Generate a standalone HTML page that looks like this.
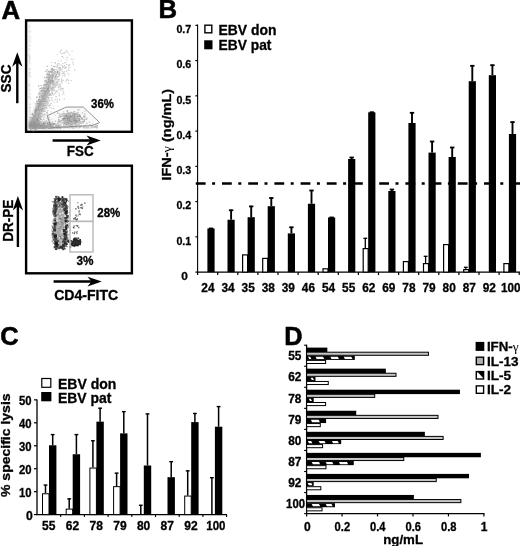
<!DOCTYPE html>
<html><head><meta charset="utf-8"><title>Figure</title>
<style>
html,body{margin:0;padding:0;background:#fff;}
body{width:520px;height:546px;overflow:hidden;font-family:"Liberation Sans",sans-serif;}
svg{display:block;will-change:transform;}
text{stroke:#000;stroke-width:0.3px;}
text.big{stroke-width:0.55px;}
tspan.g{stroke-width:0;}
</style></head><body>
<svg width="520" height="546" viewBox="0 0 520 546">
<defs>
<filter id="bl" x="-5%" y="-5%" width="110%" height="110%"><feGaussianBlur stdDeviation="0.55"/></filter>
<filter id="bl3" x="-10%" y="-10%" width="120%" height="120%"><feGaussianBlur stdDeviation="1.6"/></filter>
<filter id="bl2" x="-5%" y="-5%" width="110%" height="110%"><feGaussianBlur stdDeviation="0.45"/></filter>
<pattern id="hatch" patternUnits="userSpaceOnUse" x="306.4" y="0" width="14.1" height="6">
<rect x="0" y="0" width="14.1" height="6" fill="#000"/>
<path d="M3.5,0 L12,0 L14.1,6 L5.6,6 Z" fill="#fff"/>
</pattern>
</defs>
<rect x="0" y="0" width="520" height="546" fill="#fff"/>
<text x="1.5" y="18.6" font-size="25" text-anchor="start" font-family="Liberation Sans, sans-serif" font-weight="bold" textLength="18.6" lengthAdjust="spacingAndGlyphs" class="big">A</text>
<text x="158.6" y="17.8" font-size="25" text-anchor="start" font-family="Liberation Sans, sans-serif" font-weight="bold" textLength="18.6" lengthAdjust="spacingAndGlyphs" class="big">B</text>
<text x="0.2" y="345.1" font-size="25" text-anchor="start" font-family="Liberation Sans, sans-serif" font-weight="bold" textLength="18.4" lengthAdjust="spacingAndGlyphs" class="big">C</text>
<text x="284.3" y="344.7" font-size="25" text-anchor="start" font-family="Liberation Sans, sans-serif" font-weight="bold" textLength="18.3" lengthAdjust="spacingAndGlyphs" class="big">D</text>
<rect x="26.10" y="20.40" width="105.80" height="111.40" fill="#fff" stroke="#000" stroke-width="2.4" />
<g filter="url(#bl3)">
<path d="M29.5,127 L33,113 L41,92 L49,74 L53,71 L51,84 L45,103 L39,121 L37,128 Z" fill="#999" opacity="0.42"/>
<path d="M28,122 L50,121 L60,129 L28,129.5 Z" fill="#999" opacity="0.45"/>
<ellipse cx="70.5" cy="118.5" rx="8" ry="4.5" fill="#999" opacity="0.5"/>
<rect x="27.6" y="23" width="1.8" height="104" fill="#aaa" opacity="0.25"/>
<path d="M50,116 L67,108 L83,108 L98,122 L90,125 L53,127.5 Z" fill="#aaa" opacity="0.08"/>
</g>
<g filter="url(#bl)" opacity="0.55" fill="none">
<path d="M39.5,116.1h1.2M32.1,124.8h1.2M37.7,109.7h1.2M50.5,88.7h1.2M34.5,124.8h1.2M34.1,117.5h1.2M44.6,92.4h1.2M42.2,90.0h1.2M46.1,99.1h1.2M50.8,69.4h1.2M52.0,71.4h1.2M46.9,89.9h1.2M31.5,118.7h1.2M31.8,113.8h1.2M38.3,99.5h1.2M33.6,120.1h1.2M31.2,120.5h1.2M34.5,112.0h1.2M54.1,77.5h1.2M44.5,84.6h1.2M35.7,123.3h1.2M56.9,71.6h1.2M52.2,76.5h1.2M55.2,85.7h1.2M50.5,82.5h1.2M36.3,120.2h1.2M39.1,104.1h1.2M33.9,121.2h1.2M38.0,112.8h1.2M48.3,85.9h1.2M36.2,124.1h1.2M37.9,110.0h1.2M43.3,91.5h1.2M46.0,108.2h1.2M34.7,121.9h1.2M34.0,125.7h1.2M56.3,84.7h1.2M49.9,84.0h1.2M57.1,73.2h1.2M38.1,111.7h1.2M39.5,113.1h1.2M47.0,93.7h1.2M30.9,122.9h1.2M53.3,69.7h1.2M33.2,120.8h1.2M32.7,118.3h1.2M52.6,84.4h1.2M48.2,87.2h1.2M54.7,76.6h1.2M50.8,82.9h1.2M48.1,95.1h1.2M55.8,75.1h1.2M44.8,91.8h1.2M32.3,117.7h1.2M38.9,110.4h1.2M33.7,124.3h1.2M34.7,110.4h1.2M35.2,110.0h1.2M42.5,93.6h1.2M42.2,108.5h1.2M45.6,92.3h1.2M50.1,71.6h1.2M39.2,113.3h1.2M41.3,96.8h1.2M34.4,125.6h1.2M36.6,115.8h1.2M39.4,109.2h1.2M32.6,121.6h1.2M47.2,93.2h1.2M40.6,104.2h1.2M38.3,112.0h1.2M33.7,120.4h1.2M37.7,117.5h1.2M33.9,123.6h1.2M59.2,69.2h1.2M48.4,79.2h1.2M44.5,103.5h1.2M43.6,106.2h1.2M44.4,105.5h1.2M44.7,103.0h1.2M52.1,73.0h1.2M31.2,118.9h1.2M33.8,121.9h1.2M46.0,86.6h1.2M57.0,72.0h1.2M33.6,123.3h1.2M40.2,104.0h1.2M37.0,119.2h1.2M41.2,88.2h1.2M37.4,119.7h1.2M36.3,101.3h1.2M35.7,116.5h1.2M34.7,117.3h1.2M44.9,100.6h1.2M33.9,121.0h1.2M43.4,90.8h1.2M33.8,123.2h1.2M35.3,119.3h1.2M46.1,96.4h1.2M35.6,118.4h1.2M29.7,117.2h1.2M42.4,104.0h1.2M47.7,88.6h1.2M44.3,111.2h1.2M46.6,82.9h1.2M39.2,121.0h1.2M44.6,107.9h1.2M37.8,108.1h1.2M45.3,92.6h1.2M37.5,111.4h1.2M58.0,73.9h1.2M44.8,95.2h1.2M53.0,87.6h1.2M39.0,105.4h1.2M32.4,128.7h1.2M52.3,80.3h1.2M47.4,90.1h1.2M32.0,120.6h1.2M44.1,107.6h1.2M51.8,81.4h1.2M38.5,101.1h1.2M33.6,127.9h1.2M43.1,87.9h1.2M30.9,124.9h1.2M47.2,88.4h1.2M45.1,93.8h1.2M33.6,115.8h1.2M35.6,118.5h1.2M37.1,112.3h1.2M41.6,109.6h1.2M50.1,83.3h1.2M30.8,121.3h1.2M51.9,68.7h1.2M52.1,82.8h1.2M42.3,104.1h1.2M41.6,110.8h1.2M46.7,90.4h1.2M51.7,75.1h1.2M41.3,101.5h1.2M34.3,123.2h1.2M40.4,119.2h1.2M35.8,112.2h1.2M32.5,120.7h1.2M38.7,104.6h1.2M33.3,119.3h1.2M34.3,125.4h1.2M53.4,73.9h1.2M39.3,110.0h1.2M33.9,117.0h1.2M32.5,122.9h1.2M37.2,114.0h1.2M39.9,105.0h1.2M39.5,88.6h1.2M51.0,77.9h1.2M53.4,66.7h1.2M44.0,101.4h1.2M34.2,122.6h1.2M38.3,104.8h1.2M47.7,86.5h1.2M49.8,95.3h1.2M51.9,87.6h1.2M59.8,69.0h1.2M35.6,127.7h1.2M34.6,116.7h1.2M46.1,76.8h1.2M43.3,97.1h1.2M41.6,106.1h1.2M34.5,117.1h1.2M51.4,89.4h1.2M36.6,114.5h1.2M40.5,103.5h1.2M41.4,105.9h1.2M36.2,97.1h1.2" stroke="rgb(70,70,70)" stroke-width="1.2"/>
<path d="M53.8,83.5h1.2M46.2,100.9h1.2M33.4,127.8h1.2M42.5,97.7h1.2M42.9,103.4h1.2M47.4,97.4h1.2M33.1,122.2h1.2M41.7,106.8h1.2M51.6,82.8h1.2M37.4,110.2h1.2M34.3,124.5h1.2M32.9,121.3h1.2M39.9,100.5h1.2M46.4,92.9h1.2M41.0,90.6h1.2M52.0,77.9h1.2M53.0,82.4h1.2M43.0,106.8h1.2M43.3,95.7h1.2M44.9,99.7h1.2M47.1,89.0h1.2M44.4,81.2h1.2M37.8,103.7h1.2M38.3,115.6h1.2M53.6,90.1h1.2M49.1,105.3h1.2M53.0,75.1h1.2M56.4,72.3h1.2M34.4,120.8h1.2M49.2,90.3h1.2M38.8,109.0h1.2M43.7,95.6h1.2M44.1,77.7h1.2M51.2,80.4h1.2M43.7,94.4h1.2M35.5,108.4h1.2M39.4,105.1h1.2M48.9,72.8h1.2M48.7,87.2h1.2M32.7,120.8h1.2M45.0,94.4h1.2M50.2,86.8h1.2M34.8,112.7h1.2M38.0,106.2h1.2M30.9,121.4h1.2M54.7,71.6h1.2M33.3,122.8h1.2M47.6,90.6h1.2M47.7,91.2h1.2M45.6,87.0h1.2M38.0,111.2h1.2M56.2,74.3h1.2M49.1,77.1h1.2M36.3,122.1h1.2M38.5,108.0h1.2M35.0,121.6h1.2M31.6,118.1h1.2M29.8,120.7h1.2M31.2,119.9h1.2M34.7,125.4h1.2M33.0,119.4h1.2M40.2,101.7h1.2M31.9,120.8h1.2M29.9,122.5h1.2M47.7,71.4h1.2M47.7,90.5h1.2M55.5,75.0h1.2M49.2,82.1h1.2M54.6,62.8h1.2M35.3,119.7h1.2M40.4,101.9h1.2M33.4,115.9h1.2M38.0,116.6h1.2M45.8,86.1h1.2M35.2,121.1h1.2M42.7,101.1h1.2M36.5,103.5h1.2M46.3,102.4h1.2M37.7,113.0h1.2M42.1,103.4h1.2M36.5,109.8h1.2M33.7,118.4h1.2M48.4,75.7h1.2M34.7,109.7h1.2M31.6,123.8h1.2M44.9,103.8h1.2M36.4,105.2h1.2M33.0,125.0h1.2M59.4,67.6h1.2M34.6,116.0h1.2M39.0,103.7h1.2M39.8,108.2h1.2M43.3,85.3h1.2M55.3,77.9h1.2M41.0,116.7h1.2M44.6,101.0h1.2M53.0,84.1h1.2M32.4,120.3h1.2M53.0,81.4h1.2M34.1,115.1h1.2M50.9,72.1h1.2M38.1,85.9h1.2M47.5,93.3h1.2M49.1,77.6h1.2M51.5,77.3h1.2M43.0,99.3h1.2M37.3,106.0h1.2M39.9,119.2h1.2M35.1,111.5h1.2M39.4,114.4h1.2M39.5,103.0h1.2M37.2,115.5h1.2M36.0,116.9h1.2M35.1,127.8h1.2M42.0,105.7h1.2M56.0,72.4h1.2M58.6,68.4h1.2M39.8,108.9h1.2M33.7,121.8h1.2M44.5,99.7h1.2M51.4,71.3h1.2M32.6,115.2h1.2M30.4,125.5h1.2M38.6,118.7h1.2M30.5,122.5h1.2M51.8,93.2h1.2M36.8,126.4h1.2M50.6,80.9h1.2M47.2,92.4h1.2M41.9,96.1h1.2M30.2,129.6h1.2M36.7,114.7h1.2M47.0,84.4h1.2M34.2,112.2h1.2M37.8,113.1h1.2M35.7,107.9h1.2M39.5,93.5h1.2M54.9,75.5h1.2M42.2,98.8h1.2M45.2,71.3h1.2M39.1,110.9h1.2M47.1,74.1h1.2M31.8,122.0h1.2M36.9,118.1h1.2M38.0,100.4h1.2M42.1,105.6h1.2M42.3,98.9h1.2M40.3,110.0h1.2M32.5,118.4h1.2M38.4,123.7h1.2M47.9,89.1h1.2M38.2,94.2h1.2M47.1,75.0h1.2M40.9,100.3h1.2M36.6,124.1h1.2M40.9,113.7h1.2M33.2,116.8h1.2M51.7,89.6h1.2M51.7,74.9h1.2M42.8,97.9h1.2M39.2,97.7h1.2M33.2,124.7h1.2M31.4,122.4h1.2M50.3,82.5h1.2M46.5,69.9h1.2M37.3,107.3h1.2M35.5,123.6h1.2M52.6,76.4h1.2M32.3,125.9h1.2M46.6,77.3h1.2M35.3,112.9h1.2M37.2,113.9h1.2M48.4,74.3h1.2M48.8,81.8h1.2M40.0,108.5h1.2M52.0,71.6h1.2M57.3,72.1h1.2M36.2,110.1h1.2M35.9,116.0h1.2M54.2,73.7h1.2M49.9,81.3h1.2M35.8,111.3h1.2M34.9,129.7h1.2" stroke="rgb(100,100,100)" stroke-width="1.2"/>
<path d="M43.9,93.9h1.2M36.2,114.5h1.2M32.1,119.6h1.2M50.6,75.8h1.2M35.2,103.8h1.2M34.9,121.7h1.2M44.9,99.9h1.2M36.9,110.7h1.2M54.8,79.2h1.2M36.5,121.3h1.2M60.3,69.2h1.2M53.5,86.8h1.2M41.8,99.9h1.2M55.7,82.2h1.2M41.8,100.6h1.2M42.9,91.4h1.2M55.0,72.6h1.2M56.3,67.2h1.2M37.3,112.2h1.2M55.1,79.7h1.2M47.2,72.8h1.2M36.3,124.4h1.2M36.6,115.9h1.2M45.7,86.9h1.2M32.8,117.9h1.2M29.7,120.4h1.2M39.0,96.4h1.2M46.8,87.4h1.2M34.2,114.4h1.2M43.5,98.0h1.2M51.3,74.4h1.2M42.4,115.0h1.2M38.9,105.1h1.2M51.6,78.2h1.2M39.6,108.1h1.2M48.4,84.2h1.2M48.3,95.2h1.2M40.4,100.3h1.2M50.0,82.7h1.2M35.1,120.9h1.2M30.7,123.8h1.2M53.1,70.5h1.2M35.3,120.3h1.2M51.2,68.2h1.2M34.4,129.7h1.2M37.6,117.9h1.2M37.2,114.6h1.2M33.4,115.9h1.2M49.2,81.6h1.2M38.9,110.0h1.2M34.4,114.2h1.2M32.9,128.0h1.2M52.0,73.0h1.2M45.8,81.9h1.2M39.6,103.2h1.2M29.4,122.4h1.2M29.8,123.2h1.2M48.3,77.6h1.2M35.6,123.9h1.2M35.2,112.0h1.2M34.0,113.0h1.2M46.6,78.0h1.2M29.9,123.4h1.2M37.4,112.9h1.2M51.3,82.7h1.2M44.5,95.3h1.2M34.7,124.7h1.2M47.8,84.3h1.2M50.0,75.8h1.2M33.6,120.4h1.2M40.4,94.8h1.2M35.1,124.8h1.2M49.5,94.5h1.2M53.2,89.0h1.2M46.6,92.8h1.2M53.7,69.5h1.2M38.0,118.8h1.2M52.0,72.3h1.2M47.5,95.8h1.2M42.9,97.0h1.2M40.1,108.1h1.2M37.4,112.8h1.2M45.6,90.5h1.2M56.7,64.6h1.2M34.8,118.7h1.2M42.9,108.0h1.2M32.7,130.8h1.2M50.3,79.3h1.2M36.2,115.3h1.2M35.2,106.8h1.2M35.1,117.0h1.2M37.0,108.6h1.2M44.6,96.2h1.2M34.1,115.2h1.2M47.1,92.7h1.2M33.0,124.4h1.2M47.4,89.7h1.2M48.6,86.3h1.2M54.2,85.1h1.2M36.5,102.0h1.2M39.9,104.8h1.2M51.4,89.9h1.2M37.6,112.8h1.2M41.4,102.5h1.2M36.2,107.1h1.2M39.0,110.7h1.2M40.7,113.3h1.2M52.8,73.4h1.2M36.7,112.6h1.2M44.9,87.9h1.2M35.8,124.2h1.2M44.4,98.2h1.2M38.6,92.9h1.2M56.3,81.7h1.2M56.1,82.6h1.2M34.3,121.9h1.2M46.4,87.7h1.2M37.0,105.9h1.2M43.9,98.5h1.2M40.4,106.9h1.2M39.8,117.2h1.2M54.0,81.5h1.2M36.8,113.7h1.2M56.8,70.3h1.2M33.6,118.8h1.2M29.3,119.2h1.2M35.1,123.4h1.2M47.2,77.5h1.2M38.9,115.5h1.2M41.7,99.6h1.2M51.3,62.5h1.2M44.6,80.8h1.2M44.9,101.9h1.2M34.6,116.6h1.2M50.3,93.5h1.2M53.7,70.4h1.2M37.8,101.1h1.2M44.5,105.9h1.2M55.8,76.3h1.2M57.2,81.0h1.2M30.6,119.0h1.2M44.2,87.8h1.2M36.6,109.7h1.2M32.4,124.1h1.2M42.6,93.3h1.2M58.6,72.4h1.2M42.0,105.1h1.2M32.4,128.2h1.2M57.8,76.5h1.2M42.8,96.1h1.2M52.3,88.8h1.2M46.1,84.7h1.2M38.7,117.7h1.2M56.5,74.0h1.2M34.3,122.5h1.2M35.1,118.2h1.2M34.8,121.3h1.2M54.1,77.4h1.2M47.7,79.1h1.2M45.1,92.1h1.2M42.9,95.3h1.2M42.2,104.2h1.2M48.2,93.8h1.2M55.7,91.4h1.2M33.2,118.3h1.2M31.0,120.3h1.2M55.9,78.8h1.2M40.1,100.0h1.2M36.7,107.7h1.2M35.5,126.6h1.2M35.5,116.2h1.2M59.4,70.1h1.2M58.6,68.3h1.2M46.3,101.0h1.2M63.6,71.5h1.2M42.7,119.0h1.2M74.1,69.9h1.2M50.6,82.8h1.2M54.6,72.5h1.2M41.8,100.8h1.2M57.9,87.5h1.2M66.0,64.5h1.2M62.2,67.5h1.2M61.8,56.6h1.2M63.7,65.9h1.2M59.0,99.6h1.2M57.5,86.0h1.2M47.6,80.7h1.2M44.7,92.1h1.2M51.1,127.0h1.2M40.3,99.7h1.2M58.6,69.2h1.2M48.7,117.5h1.2M47.3,100.7h1.2M52.4,90.9h1.2M64.1,63.0h1.2M60.3,65.0h1.2M42.1,115.6h1.2M61.0,79.2h1.2M45.5,98.6h1.2M51.0,88.3h1.2M59.7,86.2h1.2M65.9,50.9h1.2M46.9,110.6h1.2M51.3,71.2h1.2M43.5,104.1h1.2M61.6,73.7h1.2M57.2,84.1h1.2M57.6,72.0h1.2M48.8,101.0h1.2M60.6,88.5h1.2M57.5,63.7h1.2M43.8,106.6h1.2M48.6,93.4h1.2M43.4,117.3h1.2M45.1,105.0h1.2M40.6,107.5h1.2M60.4,90.2h1.2M68.4,64.7h1.2M54.2,93.3h1.2M61.8,66.2h1.2M55.2,91.9h1.2M55.4,85.5h1.2M62.7,92.9h1.2M59.2,73.1h1.2M52.2,78.4h1.2M58.6,87.1h1.2M68.3,70.3h1.2M39.5,116.7h1.2M38.6,102.3h1.2M56.7,83.3h1.2M43.1,114.6h1.2M37.4,117.8h1.2M51.2,92.1h1.2M65.7,80.9h1.2M47.7,98.6h1.2M38.2,114.5h1.2M59.8,51.3h1.2M47.4,103.8h1.2M52.3,94.1h1.2M56.6,91.2h1.2M57.4,79.8h1.2M44.2,113.9h1.2M62.8,72.9h1.2M63.6,99.2h1.2M60.7,50.0h1.2M46.8,114.2h1.2M61.5,56.7h1.2M60.7,81.1h1.2M49.5,107.5h1.2M61.4,88.4h1.2M53.1,84.2h1.2M67.3,52.3h1.2M68.2,80.3h1.2M50.5,103.5h1.2M57.8,79.7h1.2M57.1,65.8h1.2M59.2,70.8h1.2M61.9,88.7h1.2M68.1,66.0h1.2M38.0,124.7h1.2M55.7,84.3h1.2M46.7,112.4h1.2M52.0,77.7h1.2M51.7,79.3h1.2M66.7,57.3h1.2M58.0,72.0h1.2M41.9,92.0h1.2M64.6,52.4h1.2M62.9,91.0h1.2M42.5,94.9h1.2M42.9,109.8h1.2M29.6,127.6h1.2M43.9,127.0h1.2M29.4,121.9h1.2M52.0,125.1h1.2M30.7,120.4h1.2M48.5,126.2h1.2M49.5,126.8h1.2M28.9,125.4h1.2M34.1,125.4h1.2M44.0,124.0h1.2M33.9,128.0h1.2M35.2,128.5h1.2M37.4,127.6h1.2M54.4,123.7h1.2M44.5,127.3h1.2M29.4,128.2h1.2M39.9,122.2h1.2M51.1,127.6h1.2M42.9,124.2h1.2M39.8,124.7h1.2M31.2,124.3h1.2M41.7,127.4h1.2M30.2,125.0h1.2M42.4,124.4h1.2M39.2,127.0h1.2M31.2,126.2h1.2M43.1,123.2h1.2M35.6,124.2h1.2M36.5,127.7h1.2M39.9,125.7h1.2M39.7,126.1h1.2M49.3,127.9h1.2M36.7,127.2h1.2M57.6,124.8h1.2M38.6,123.2h1.2M34.0,127.6h1.2M31.3,122.6h1.2M31.5,126.3h1.2M50.4,124.9h1.2M57.1,126.7h1.2M29.9,126.1h1.2M36.0,126.3h1.2M35.3,126.4h1.2M44.9,126.2h1.2M35.8,128.3h1.2M40.7,121.8h1.2M36.4,123.6h1.2M34.4,127.0h1.2M38.1,128.4h1.2M31.9,125.9h1.2M32.1,123.2h1.2M54.5,126.7h1.2M47.6,126.1h1.2M66.9,126.5h1.2M39.3,126.0h1.2M48.5,127.6h1.2M41.8,124.7h1.2M46.1,126.0h1.2M29.9,123.4h1.2M29.6,127.9h1.2M40.7,122.9h1.2M39.8,127.8h1.2M30.6,128.4h1.2M45.3,126.2h1.2M28.9,126.2h1.2M42.8,119.4h1.2M34.0,127.4h1.2M33.2,128.1h1.2M54.8,126.5h1.2M35.8,124.4h1.2M58.0,127.3h1.2M34.4,127.9h1.2M43.0,128.3h1.2M29.9,126.4h1.2M51.6,122.5h1.2M41.8,125.1h1.2M33.2,126.2h1.2M34.1,122.1h1.2M41.0,127.3h1.2M32.5,125.9h1.2M44.5,128.0h1.2M56.8,128.2h1.2M89.2,124.7h1.2M29.3,127.9h1.2M41.7,124.5h1.2M35.8,127.9h1.2M29.5,126.4h1.2M28.6,123.6h1.2M38.2,125.8h1.2M32.8,126.0h1.2M44.9,127.9h1.2M31.2,127.5h1.2M36.0,122.7h1.2M44.6,123.4h1.2M32.4,128.3h1.2M45.0,128.0h1.2M34.5,127.3h1.2M40.4,124.1h1.2M33.3,124.5h1.2M29.0,124.2h1.2M30.1,127.5h1.2M32.4,125.0h1.2M30.5,123.4h1.2M44.4,127.7h1.2M33.2,127.7h1.2M40.6,127.9h1.2M31.6,128.5h1.2M47.9,125.1h1.2M28.9,127.5h1.2M56.1,126.6h1.2M42.3,125.1h1.2M54.5,126.4h1.2M44.8,128.2h1.2M60.2,128.6h1.2M46.4,126.2h1.2M62.3,126.6h1.2M32.1,121.7h1.2M34.7,122.8h1.2M33.2,126.0h1.2M28.9,128.3h1.2" stroke="rgb(150,150,150)" stroke-width="1.2"/>
<path d="M37.5,115.5h1.2M40.9,95.3h1.2M48.6,81.1h1.2M45.3,97.7h1.2M58.5,72.7h1.2M50.7,81.3h1.2M50.2,76.3h1.2M39.7,117.1h1.2M38.7,114.6h1.2M47.1,83.9h1.2M47.4,102.3h1.2M35.1,125.1h1.2M43.0,108.7h1.2M50.9,83.2h1.2M41.8,105.8h1.2M44.0,92.6h1.2M50.6,82.9h1.2M52.1,70.2h1.2M42.4,106.5h1.2M36.7,118.7h1.2M35.4,114.3h1.2M39.5,90.9h1.2M38.1,123.0h1.2M32.8,121.1h1.2M52.0,69.4h1.2M47.8,81.9h1.2M50.1,94.5h1.2M45.3,88.1h1.2M39.6,114.9h1.2M36.1,126.0h1.2M58.6,75.7h1.2M37.4,112.8h1.2M51.6,71.2h1.2M33.1,121.0h1.2M39.4,112.8h1.2M38.7,107.3h1.2M39.6,112.7h1.2M38.6,115.0h1.2M44.7,100.3h1.2M45.5,100.3h1.2M33.6,126.2h1.2M38.1,110.7h1.2M31.6,120.7h1.2M55.0,87.4h1.2M31.7,121.9h1.2M43.2,95.9h1.2M32.7,117.9h1.2M36.9,127.0h1.2M37.8,120.3h1.2M39.6,114.1h1.2M45.3,80.3h1.2M43.0,98.3h1.2M48.2,86.6h1.2M32.4,125.1h1.2M47.3,83.0h1.2M46.6,94.8h1.2M54.9,73.0h1.2M31.6,119.6h1.2M48.8,82.7h1.2M35.9,129.2h1.2M45.9,88.6h1.2M44.3,98.4h1.2M35.1,121.7h1.2M39.4,112.9h1.2M47.6,90.0h1.2M30.8,121.1h1.2M31.7,114.8h1.2M39.3,115.3h1.2M34.9,113.7h1.2M47.6,85.4h1.2M31.4,122.8h1.2M30.8,118.0h1.2M39.2,108.8h1.2M51.2,84.2h1.2M35.5,114.5h1.2M53.5,86.8h1.2M39.5,102.5h1.2M51.6,88.9h1.2M34.8,117.1h1.2M37.0,113.1h1.2M59.2,74.8h1.2M45.7,83.0h1.2M36.8,113.4h1.2M46.7,66.4h1.2M46.3,92.7h1.2M52.4,87.4h1.2M40.4,119.3h1.2M48.8,79.7h1.2M44.0,88.6h1.2M47.9,80.0h1.2M39.0,96.4h1.2M42.7,88.3h1.2M44.1,85.0h1.2M49.2,71.2h1.2M40.6,91.8h1.2M37.4,103.5h1.2M50.1,88.6h1.2M54.4,66.3h1.2M49.0,94.8h1.2M32.2,120.3h1.2M42.6,111.4h1.2M51.0,65.5h1.2M46.8,82.9h1.2M37.3,120.0h1.2M41.5,100.8h1.2M41.5,90.6h1.2M49.7,82.5h1.2M31.5,114.0h1.2M34.0,120.4h1.2M45.9,74.1h1.2M52.1,78.1h1.2M52.7,72.7h1.2M55.4,69.5h1.2M39.0,106.5h1.2M48.1,77.4h1.2M37.6,114.1h1.2M46.3,104.1h1.2M39.6,108.1h1.2M39.1,115.0h1.2M54.7,83.7h1.2M40.7,111.4h1.2M54.3,78.1h1.2M51.4,79.5h1.2M33.0,116.3h1.2M35.6,122.5h1.2M34.5,126.6h1.2M43.1,106.8h1.2M41.3,104.4h1.2M31.7,122.6h1.2M37.5,122.0h1.2M42.8,102.7h1.2M34.5,115.2h1.2M35.6,115.5h1.2M36.1,110.6h1.2M38.6,108.0h1.2M40.0,107.8h1.2M32.5,131.0h1.2M32.1,127.3h1.2M46.3,105.9h1.2M47.0,95.3h1.2M50.2,82.5h1.2M53.6,73.3h1.2M36.9,111.5h1.2M49.8,80.5h1.2M55.1,75.4h1.2M48.8,91.7h1.2M40.6,110.2h1.2M43.7,110.1h1.2M42.6,101.0h1.2M45.3,90.1h1.2M41.1,100.8h1.2M40.3,88.5h1.2M33.2,119.8h1.2M36.2,109.3h1.2M48.8,72.1h1.2M38.5,113.9h1.2M47.2,92.3h1.2M52.6,83.0h1.2M34.7,122.2h1.2M48.4,79.0h1.2M45.5,97.6h1.2M45.7,90.9h1.2M34.7,127.7h1.2M45.9,112.9h1.2M45.7,81.5h1.2M44.5,95.8h1.2M45.5,99.0h1.2M46.5,101.0h1.2M40.4,85.7h1.2M52.6,85.6h1.2" stroke="rgb(130,130,130)" stroke-width="1.2"/>
<path d="M45.2,108.1h1.2M41.5,104.0h1.2M65.7,67.5h1.2M44.7,109.2h1.2M57.5,74.3h1.2M59.8,84.3h1.2M47.2,110.6h1.2M60.2,68.8h1.2M39.0,108.6h1.2M63.4,93.8h1.2M54.0,79.6h1.2M57.4,106.4h1.2M39.6,115.0h1.2M46.6,127.7h1.2M53.5,108.8h1.2M46.9,104.0h1.2M54.1,86.6h1.2M57.0,63.9h1.2M56.0,78.8h1.2M67.3,73.4h1.2M45.7,99.4h1.2M39.4,108.4h1.2M50.9,83.8h1.2M36.4,102.3h1.2M51.1,95.2h1.2M55.4,92.6h1.2M67.9,74.7h1.2M62.8,75.3h1.2M51.6,119.0h1.2M53.5,102.2h1.2M53.4,79.2h1.2M43.6,100.5h1.2M53.6,93.7h1.2M53.5,76.7h1.2M48.5,118.9h1.2M61.7,71.4h1.2M64.0,68.2h1.2M50.6,90.4h1.2M56.8,74.4h1.2M46.4,86.5h1.2M64.9,68.3h1.2M48.5,123.0h1.2M59.6,89.3h1.2M66.5,70.1h1.2M54.5,79.1h1.2M61.1,53.5h1.2M42.1,112.6h1.2M56.6,54.7h1.2M57.5,60.8h1.2M46.1,105.2h1.2M44.0,113.9h1.2M42.6,110.2h1.2M37.8,111.7h1.2M50.6,100.2h1.2M57.8,68.9h1.2M42.0,121.1h1.2M52.9,73.3h1.2M69.0,54.3h1.2M62.8,88.5h1.2M51.8,97.7h1.2M57.7,68.1h1.2M48.1,99.8h1.2M49.7,114.3h1.2M42.8,102.5h1.2M64.3,76.2h1.2M44.4,108.6h1.2M57.8,86.9h1.2M42.1,106.7h1.2M72.8,64.7h1.2M43.3,115.7h1.2M56.5,91.2h1.2M54.0,81.2h1.2M38.7,125.1h1.2M61.8,77.0h1.2M50.0,119.7h1.2M50.3,111.9h1.2M45.3,97.1h1.2M39.5,112.5h1.2M47.9,106.4h1.2M54.4,87.3h1.2M50.0,104.6h1.2M65.1,59.0h1.2M59.2,85.2h1.2M57.0,77.1h1.2M69.6,67.4h1.2M43.7,107.5h1.2M58.6,81.7h1.2M71.9,61.8h1.2M67.1,60.2h1.2M44.2,110.4h1.2M61.7,94.7h1.2M62.9,57.5h1.2M56.0,84.8h1.2M59.5,52.8h1.2M44.3,116.3h1.2M49.1,88.5h1.2M36.6,113.2h1.2M43.8,119.9h1.2M72.6,63.2h1.2M59.9,84.4h1.2M58.3,72.5h1.2M36.2,115.8h1.2M59.7,70.4h1.2M63.8,53.7h1.2M55.4,96.7h1.2M47.6,104.2h1.2M50.4,103.4h1.2M29.4,112.1h1.2M28.5,84.6h1.2M29.6,122.7h1.2M29.4,31.0h1.2M28.5,84.0h1.2M29.1,57.1h1.2M29.2,110.2h1.2M29.6,76.6h1.2M29.6,93.8h1.2M29.4,39.9h1.2M29.3,41.7h1.2M28.9,72.5h1.2M29.0,118.0h1.2M28.6,117.5h1.2M29.3,62.9h1.2M29.5,37.1h1.2M28.6,89.7h1.2M28.4,96.5h1.2M28.7,107.9h1.2M28.8,49.4h1.2M29.1,26.3h1.2M29.5,32.0h1.2M28.7,73.9h1.2M29.0,110.6h1.2" stroke="rgb(190,190,190)" stroke-width="1.2"/>
<path d="M56.3,77.0h1.2M54.2,79.6h1.2M64.1,76.0h1.2M40.8,127.1h1.2M45.9,106.2h1.2M66.0,79.8h1.2M48.8,100.4h1.2M56.8,101.9h1.2M55.7,96.4h1.2M70.5,59.1h1.2M52.5,86.4h1.2M54.1,82.9h1.2M58.7,67.2h1.2M45.1,103.0h1.2M44.9,88.0h1.2M59.9,114.8h1.2M54.9,79.1h1.2M51.6,100.7h1.2M58.9,79.1h1.2M52.5,106.0h1.2M45.8,100.5h1.2M46.3,100.8h1.2M48.1,116.8h1.2M64.3,68.0h1.2M49.5,87.8h1.2M53.3,95.0h1.2M61.2,82.2h1.2M58.7,94.7h1.2M51.4,90.6h1.2M52.9,82.7h1.2M56.7,98.9h1.2M53.9,80.8h1.2M64.2,74.3h1.2M61.6,53.7h1.2M56.4,101.3h1.2M49.5,86.0h1.2M58.2,93.2h1.2M44.6,107.9h1.2M43.7,107.4h1.2M54.0,84.8h1.2M61.4,69.8h1.2M49.3,87.9h1.2M45.8,87.6h1.2M62.3,63.7h1.2M44.6,103.6h1.2M42.3,115.7h1.2M68.8,54.6h1.2M52.8,87.9h1.2M45.0,115.1h1.2M59.9,86.2h1.2M52.0,74.4h1.2M45.8,118.4h1.2M58.4,86.9h1.2M39.5,100.5h1.2M38.9,116.2h1.2M40.0,110.8h1.2M56.0,67.2h1.2M43.0,114.3h1.2M72.8,59.2h1.2M56.4,78.8h1.2M51.0,108.3h1.2M68.1,68.3h1.2M62.7,53.0h1.2M54.8,99.7h1.2M58.7,73.4h1.2M65.1,66.6h1.2M49.9,95.3h1.2M47.6,94.8h1.2M39.6,125.0h1.2M49.0,97.5h1.2M49.3,85.1h1.2M60.4,88.1h1.2M61.4,83.2h1.2M60.5,61.2h1.2M65.3,67.6h1.2M70.9,80.6h1.2M41.9,103.3h1.2M62.6,80.3h1.2M62.4,66.6h1.2M57.0,82.5h1.2M47.0,118.8h1.2M52.0,90.5h1.2M55.6,72.7h1.2M47.2,86.6h1.2M41.2,106.4h1.2M65.7,71.7h1.2M63.6,73.2h1.2M68.1,83.3h1.2M40.7,112.5h1.2M58.0,89.3h1.2M45.8,93.5h1.2M52.9,108.5h1.2M59.4,84.3h1.2M40.3,122.5h1.2M45.7,103.7h1.2M62.2,68.0h1.2M41.5,114.3h1.2M47.2,105.1h1.2M58.9,84.4h1.2M57.8,82.0h1.2M67.0,79.1h1.2M71.4,51.1h1.2M54.9,83.9h1.2M56.6,76.6h1.2M62.1,88.9h1.2M50.6,98.7h1.2M68.6,65.5h1.2M57.1,77.3h1.2M58.8,63.9h1.2M52.2,84.5h1.2M58.5,96.0h1.2M65.3,62.4h1.2M60.8,81.0h1.2M53.6,71.5h1.2M62.0,80.5h1.2M50.8,95.5h1.2M36.7,112.0h1.2M59.1,69.6h1.2M72.2,127.5h1.2M58.5,127.2h1.2M58.1,126.6h1.2M85.7,127.0h1.2M70.4,124.9h1.2M65.2,125.0h1.2M90.0,128.1h1.2M70.8,123.3h1.2M58.8,126.5h1.2M95.6,127.8h1.2M58.4,124.8h1.2M92.8,127.0h1.2M59.4,124.7h1.2M71.6,126.7h1.2M92.0,127.4h1.2M72.2,128.0h1.2M85.3,125.9h1.2M63.6,122.2h1.2M78.8,126.7h1.2M61.1,127.2h1.2M93.7,127.3h1.2M76.7,127.9h1.2M88.7,122.1h1.2M66.2,125.8h1.2M75.0,124.9h1.2M91.9,124.1h1.2M59.8,125.9h1.2M69.0,126.7h1.2M60.7,127.3h1.2M85.0,127.8h1.2M51.6,127.4h1.2M60.0,127.1h1.2M73.5,128.3h1.2M69.2,127.7h1.2M80.4,126.2h1.2M96.7,126.8h1.2M67.6,126.4h1.2M80.8,126.6h1.2M75.6,127.4h1.2M86.7,128.1h1.2M76.6,127.9h1.2M67.9,126.0h1.2M52.5,127.7h1.2M90.4,127.4h1.2M50.1,127.3h1.2M52.1,127.1h1.2M50.1,128.0h1.2M86.3,127.1h1.2M60.2,125.6h1.2M74.7,127.0h1.2M67.7,127.1h1.2M83.7,125.8h1.2M65.6,125.3h1.2M83.9,127.8h1.2M80.1,126.5h1.2M64.7,126.4h1.2M49.6,125.3h1.2M71.9,127.6h1.2M91.9,127.8h1.2M90.5,125.9h1.2M91.6,126.8h1.2M92.2,126.0h1.2M96.4,127.4h1.2M67.1,128.0h1.2M53.6,128.0h1.2M29.3,72.3h1.2M28.9,75.3h1.2M29.2,68.8h1.2M29.7,98.1h1.2M28.8,85.8h1.2M28.7,119.5h1.2M29.2,58.9h1.2M29.0,56.8h1.2M28.6,55.2h1.2M29.3,45.7h1.2M29.2,69.3h1.2M28.6,61.2h1.2M29.7,107.5h1.2M28.6,122.1h1.2M29.5,104.3h1.2M29.3,114.3h1.2" stroke="rgb(170,170,170)" stroke-width="1.2"/>
<path d="M39.8,127.3h1.2M63.9,126.7h1.2M29.9,123.5h1.2M43.3,125.8h1.2M28.6,126.1h1.2M29.0,126.8h1.2M41.7,128.3h1.2M41.9,126.9h1.2M43.0,123.5h1.2M47.2,125.0h1.2M38.5,124.8h1.2M31.8,127.0h1.2M39.0,125.2h1.2M43.2,124.7h1.2M39.9,125.7h1.2M49.8,123.6h1.2M31.5,125.5h1.2M30.0,126.5h1.2M30.7,122.4h1.2M38.5,125.8h1.2M30.0,127.2h1.2M60.1,127.9h1.2M32.9,128.1h1.2M29.4,125.7h1.2M34.9,126.9h1.2M35.4,126.0h1.2M44.6,125.8h1.2M37.0,127.5h1.2M36.9,120.1h1.2M32.6,126.0h1.2M48.0,128.4h1.2M44.0,128.6h1.2M51.7,127.8h1.2M33.1,124.6h1.2M30.4,122.5h1.2M35.2,126.8h1.2M30.7,125.3h1.2M32.1,127.9h1.2M40.9,126.7h1.2M58.2,127.2h1.2M37.4,120.5h1.2M57.3,123.7h1.2M38.0,124.1h1.2M52.2,127.2h1.2M34.5,128.4h1.2M42.2,127.7h1.2M29.3,126.9h1.2M46.9,123.5h1.2M49.4,128.1h1.2M33.5,127.1h1.2M53.1,127.6h1.2M37.6,127.4h1.2M30.8,126.3h1.2M53.1,123.7h1.2M39.2,128.3h1.2M36.3,125.3h1.2M38.9,127.4h1.2M43.9,126.2h1.2M31.1,126.4h1.2M41.0,128.2h1.2M50.6,127.6h1.2M35.5,124.5h1.2M34.5,127.6h1.2M46.5,127.1h1.2M31.8,125.9h1.2M47.4,122.6h1.2M37.5,128.1h1.2M29.6,127.1h1.2M39.2,126.2h1.2M28.8,123.8h1.2M55.5,124.8h1.2M30.5,125.2h1.2M32.7,127.8h1.2M32.0,125.7h1.2M45.6,127.5h1.2M41.6,126.6h1.2M35.9,127.3h1.2M70.5,126.7h1.2M36.9,124.3h1.2M36.7,126.1h1.2M39.6,127.5h1.2M40.8,127.9h1.2M40.7,125.7h1.2M34.2,122.3h1.2M30.2,125.6h1.2M38.6,126.9h1.2M58.3,128.5h1.2M35.8,128.3h1.2M31.7,125.7h1.2M33.7,124.4h1.2M35.3,127.5h1.2M43.5,126.4h1.2M37.5,126.4h1.2M44.6,127.5h1.2M31.7,128.3h1.2M34.5,128.3h1.2M38.3,122.1h1.2M31.4,122.7h1.2M52.7,124.4h1.2M50.6,127.8h1.2M32.6,128.1h1.2M34.1,128.1h1.2M29.6,126.2h1.2M37.3,126.8h1.2M38.6,126.0h1.2M43.4,127.4h1.2M32.5,127.8h1.2M33.3,123.0h1.2M42.0,127.6h1.2M30.2,126.9h1.2M41.8,128.5h1.2M32.5,127.7h1.2M52.1,126.5h1.2M34.1,127.8h1.2M58.5,126.3h1.2M29.6,126.8h1.2M33.1,128.3h1.2M33.2,127.5h1.2M36.8,127.1h1.2M30.9,126.7h1.2M56.3,126.7h1.2M44.4,125.3h1.2M44.2,122.8h1.2M30.0,124.2h1.2M49.8,126.3h1.2" stroke="rgb(90,90,90)" stroke-width="1.2"/>
<path d="M60.6,126.8h1.2M36.7,127.4h1.2M36.9,123.7h1.2M46.1,125.8h1.2M49.5,127.7h1.2M48.6,124.2h1.2M34.9,126.2h1.2M31.0,127.7h1.2M39.3,127.6h1.2M32.9,127.2h1.2M44.1,124.8h1.2M48.1,127.1h1.2M28.8,127.8h1.2M40.6,127.3h1.2M32.6,124.3h1.2M44.1,128.1h1.2M30.1,126.9h1.2M32.8,127.5h1.2M33.1,125.1h1.2M50.7,124.3h1.2M30.2,122.3h1.2M35.2,126.0h1.2M34.1,125.2h1.2M36.9,127.1h1.2M45.9,128.0h1.2M36.0,128.6h1.2M33.6,128.0h1.2M32.5,121.0h1.2M43.6,126.7h1.2M41.7,126.9h1.2M38.7,125.0h1.2M45.8,126.9h1.2M47.9,127.4h1.2M43.3,122.3h1.2M56.8,126.8h1.2M32.1,125.6h1.2M35.9,128.2h1.2M43.6,125.5h1.2M40.9,127.8h1.2M37.5,128.2h1.2M50.5,127.5h1.2M38.3,127.5h1.2M31.7,122.9h1.2M32.7,125.2h1.2M35.7,125.4h1.2M34.2,122.6h1.2M29.1,126.1h1.2M35.9,120.7h1.2M42.1,126.2h1.2M33.4,123.6h1.2M34.8,125.3h1.2M58.8,126.2h1.2M33.3,127.6h1.2M32.9,128.4h1.2M36.5,124.6h1.2M32.7,126.9h1.2M37.7,127.0h1.2M28.7,121.5h1.2M48.6,124.9h1.2M47.6,127.9h1.2M39.3,123.9h1.2M42.2,123.9h1.2M52.0,124.3h1.2M30.2,125.8h1.2M32.3,127.0h1.2M28.9,123.9h1.2M43.7,123.5h1.2M35.8,122.7h1.2M43.4,127.4h1.2M31.1,128.2h1.2M49.1,125.3h1.2M40.7,124.2h1.2M46.8,127.7h1.2M41.4,127.1h1.2M37.2,127.1h1.2M28.6,126.2h1.2M34.2,122.7h1.2M42.8,126.1h1.2M32.2,124.7h1.2M32.4,122.2h1.2M32.7,125.4h1.2M30.7,124.3h1.2M37.5,125.9h1.2M40.9,127.0h1.2M36.7,126.2h1.2M47.4,124.7h1.2M38.6,125.4h1.2M38.7,125.8h1.2M30.9,126.2h1.2M39.4,128.0h1.2M32.2,126.5h1.2M28.9,124.3h1.2M35.8,127.3h1.2M45.8,121.1h1.2M48.5,124.3h1.2M50.4,123.8h1.2M30.0,128.6h1.2M43.6,125.4h1.2M44.2,126.8h1.2M54.9,121.2h1.2M33.7,128.0h1.2M44.0,126.3h1.2M29.6,127.1h1.2M42.1,125.5h1.2M49.5,126.8h1.2" stroke="rgb(120,120,120)" stroke-width="1.2"/>
<path d="M52.0,126.0h1.2M67.7,125.6h1.2M50.3,127.4h1.2M87.8,127.3h1.2M71.4,125.3h1.2M52.0,127.0h1.2M90.9,126.5h1.2M94.9,127.3h1.2M79.6,127.3h1.2M56.0,126.7h1.2M71.2,127.9h1.2M55.9,128.0h1.2M75.2,127.0h1.2M55.9,126.5h1.2M96.1,126.7h1.2M72.4,127.8h1.2M63.4,126.1h1.2M71.6,126.8h1.2M65.7,127.6h1.2M62.7,126.5h1.2M68.6,127.9h1.2M75.1,127.5h1.2M84.9,125.4h1.2M80.8,126.0h1.2M81.2,123.1h1.2M63.3,128.1h1.2M73.2,126.0h1.2M48.6,125.1h1.2M96.4,126.8h1.2M67.8,122.1h1.2M51.3,124.9h1.2M73.2,123.8h1.2M94.7,126.1h1.2M96.7,125.7h1.2M74.6,124.1h1.2M55.8,126.3h1.2M55.8,125.6h1.2M75.5,125.6h1.2M83.6,126.7h1.2M68.7,128.0h1.2M85.5,127.7h1.2M70.2,124.6h1.2M93.3,127.0h1.2M93.6,126.5h1.2M82.6,126.9h1.2M72.4,127.6h1.2M88.1,127.8h1.2M64.4,126.3h1.2M56.2,126.7h1.2M48.2,127.4h1.2M60.2,127.1h1.2M51.4,127.6h1.2M96.5,127.9h1.2M66.7,127.5h1.2M54.2,128.0h1.2M71.7,125.6h1.2M76.3,125.6h1.2M59.8,127.3h1.2M55.9,126.8h1.2M83.1,127.2h1.2M87.6,126.8h1.2M95.5,125.2h1.2M63.2,127.2h1.2M66.3,124.4h1.2M78.4,127.6h1.2M68.5,127.2h1.2M63.7,123.8h1.2M79.1,127.6h1.2M87.4,127.6h1.2M64.7,124.4h1.2M57.7,127.7h1.2M55.5,127.3h1.2M82.9,127.8h1.2M64.2,127.6h1.2M73.0,127.6h1.2M71.9,122.9h1.2M51.9,122.3h1.2M75.7,118.7h1.2M65.7,115.5h1.2M79.7,125.5h1.2M68.5,123.5h1.2M72.2,121.7h1.2M64.3,116.0h1.2M70.4,119.9h1.2M74.4,115.9h1.2M67.4,121.4h1.2M75.5,118.9h1.2M67.7,113.1h1.2M70.7,116.9h1.2M65.9,113.7h1.2M61.1,116.3h1.2M73.9,120.8h1.2M75.3,117.6h1.2M71.7,120.8h1.2M81.7,119.4h1.2M66.3,124.0h1.2M77.5,124.7h1.2M66.6,118.0h1.2M72.4,120.6h1.2M68.4,124.2h1.2M76.5,118.4h1.2M62.5,121.9h1.2M60.7,120.5h1.2M77.9,119.3h1.2M69.0,117.7h1.2M73.9,115.4h1.2M62.1,115.7h1.2M78.1,119.0h1.2M77.5,120.7h1.2M71.4,120.1h1.2M86.5,118.0h1.2M70.5,123.6h1.2M65.7,120.7h1.2M66.8,114.8h1.2M77.0,126.0h1.2M77.7,112.6h1.2M76.6,116.2h1.2M76.1,121.8h1.2M76.7,116.2h1.2M67.6,119.8h1.2M59.1,114.2h1.2M65.7,117.3h1.2M69.2,118.5h1.2M66.9,111.1h1.2M64.1,119.7h1.2M72.1,120.7h1.2M66.9,117.2h1.2M66.3,115.4h1.2M77.6,121.5h1.2M83.8,120.4h1.2M76.6,113.8h1.2M74.8,122.3h1.2M72.2,118.2h1.2M74.2,126.1h1.2M71.0,118.6h1.2M62.8,113.9h1.2M75.9,115.0h1.2M70.0,119.9h1.2M71.6,124.3h1.2M74.2,116.6h1.2M64.7,118.9h1.2M79.5,116.3h1.2M68.1,119.4h1.2M69.4,120.6h1.2M71.9,117.5h1.2M60.4,123.6h1.2M68.7,119.9h1.2M71.2,117.3h1.2M69.1,117.3h1.2M64.3,121.6h1.2M73.1,113.4h1.2M67.9,123.5h1.2M64.1,117.1h1.2M62.5,115.8h1.2M65.8,123.6h1.2M70.4,116.3h1.2M69.9,118.9h1.2M69.3,125.3h1.2M71.9,113.5h1.2M72.5,116.0h1.2M83.2,119.4h1.2M69.4,122.4h1.2M75.0,120.9h1.2M62.9,124.6h1.2M64.2,117.1h1.2M75.1,117.2h1.2M70.5,117.6h1.2M80.1,122.0h1.2M73.5,115.0h1.2M62.9,120.2h1.2M70.8,119.3h1.2M71.1,119.3h1.2M71.6,116.5h1.2M66.8,117.7h1.2M68.0,119.1h1.2M79.3,116.2h1.2M74.0,120.6h1.2M62.7,119.9h1.2M81.8,112.9h1.2" stroke="rgb(140,140,140)" stroke-width="1.2"/>
<path d="M66.1,122.8h1.2M73.3,122.7h1.2M69.8,120.6h1.2M67.7,118.4h1.2M62.5,119.6h1.2M83.9,121.4h1.2M75.1,120.3h1.2M71.1,118.8h1.2M59.8,116.8h1.2M74.7,119.3h1.2M70.5,123.2h1.2M67.5,123.1h1.2M62.8,118.7h1.2M79.0,120.7h1.2M69.6,124.8h1.2M58.3,117.2h1.2M74.9,113.5h1.2M61.2,114.2h1.2M72.6,115.0h1.2M70.6,112.3h1.2M77.4,116.7h1.2M72.0,116.4h1.2M64.7,118.9h1.2M70.7,124.7h1.2M70.5,120.0h1.2M75.6,122.2h1.2M85.9,119.3h1.2M65.0,115.3h1.2M77.4,109.8h1.2M67.3,113.1h1.2M71.5,119.5h1.2M62.7,119.5h1.2M68.6,113.3h1.2M69.5,114.6h1.2M73.8,113.7h1.2M69.8,126.0h1.2M65.3,121.9h1.2M57.3,122.0h1.2M72.3,118.9h1.2M63.3,113.9h1.2M72.9,119.2h1.2M77.7,116.5h1.2M83.1,116.3h1.2M76.4,121.6h1.2M70.5,123.1h1.2M67.4,124.1h1.2M71.6,123.9h1.2M68.6,121.4h1.2M76.4,114.4h1.2M82.6,122.2h1.2M58.1,119.4h1.2M71.7,117.1h1.2M59.7,116.6h1.2M79.7,116.1h1.2M72.8,116.2h1.2M69.0,118.6h1.2M58.8,121.4h1.2M71.5,116.0h1.2M74.4,118.3h1.2M67.2,123.1h1.2M74.0,114.3h1.2M79.5,123.4h1.2M79.6,116.1h1.2M75.9,120.7h1.2M72.7,114.5h1.2M68.9,123.8h1.2M64.5,119.9h1.2M67.3,120.0h1.2M64.1,115.5h1.2M62.4,122.9h1.2M86.2,123.3h1.2M66.5,114.9h1.2M73.8,111.7h1.2M84.2,116.1h1.2M80.6,117.7h1.2M62.5,118.5h1.2M64.1,118.5h1.2M69.2,118.6h1.2M68.4,123.4h1.2M66.4,115.8h1.2M69.3,122.2h1.2M64.9,122.8h1.2M71.8,120.8h1.2M68.7,117.6h1.2M72.3,117.9h1.2M66.6,121.6h1.2M79.8,117.2h1.2M73.2,117.2h1.2M84.4,117.0h1.2M68.3,115.1h1.2M68.6,117.6h1.2M72.6,120.4h1.2M81.7,118.3h1.2M77.0,116.0h1.2M74.9,119.8h1.2M77.2,120.6h1.2M71.3,115.7h1.2M74.2,118.3h1.2M64.2,113.9h1.2M69.3,117.6h1.2M79.2,119.5h1.2M75.0,117.2h1.2M68.0,119.1h1.2" stroke="rgb(110,110,110)" stroke-width="1.2"/>
<path d="M77.1,121.5h1.2M71.6,113.0h1.2M66.1,124.7h1.2M77.3,122.3h1.2M78.4,124.8h1.2M75.1,114.2h1.2M84.2,114.0h1.2M67.4,122.8h1.2M75.2,120.8h1.2M81.3,119.2h1.2M67.7,123.6h1.2M57.2,113.2h1.2M74.7,120.6h1.2M63.8,123.3h1.2M70.5,121.5h1.2M69.8,116.6h1.2M63.9,119.9h1.2M58.2,120.9h1.2M69.6,116.7h1.2M78.9,120.1h1.2M74.5,120.0h1.2M78.7,118.4h1.2M75.1,121.1h1.2M69.2,120.0h1.2M78.9,122.1h1.2M71.9,118.9h1.2M76.9,116.6h1.2M67.7,123.5h1.2M66.2,117.0h1.2M70.2,119.6h1.2M69.4,121.0h1.2M74.0,114.6h1.2M67.8,119.7h1.2M78.3,118.3h1.2M76.3,118.0h1.2M70.3,121.8h1.2M67.0,119.9h1.2M64.4,119.3h1.2M71.1,121.2h1.2M57.4,125.7h1.2M77.3,120.2h1.2M79.0,114.9h1.2M60.2,121.8h1.2M66.4,116.0h1.2M72.7,121.4h1.2M66.4,116.1h1.2M63.0,118.5h1.2M64.4,118.7h1.2M64.1,118.5h1.2M67.1,120.4h1.2M78.2,116.3h1.2M65.7,115.9h1.2M66.6,110.8h1.2M77.1,122.7h1.2M68.3,117.3h1.2M71.6,117.5h1.2M76.0,114.2h1.2M74.7,120.6h1.2M67.4,118.4h1.2M71.5,123.6h1.2M72.7,121.2h1.2M73.8,117.2h1.2M75.2,119.7h1.2M68.0,122.8h1.2M66.8,118.3h1.2M68.6,119.7h1.2M79.2,116.3h1.2M54.0,123.7h1.2M69.6,113.4h1.2M66.8,116.2h1.2M71.8,121.3h1.2M66.9,117.6h1.2M69.1,118.3h1.2M73.1,120.5h1.2M68.4,116.6h1.2M82.3,121.8h1.2M75.9,123.2h1.2M64.9,121.6h1.2M70.5,126.6h1.2M64.8,118.5h1.2M66.5,121.6h1.2M63.7,118.1h1.2M65.9,117.0h1.2M74.0,124.0h1.2M73.4,122.2h1.2M69.3,119.5h1.2M73.1,115.9h1.2M75.0,123.4h1.2M73.6,118.1h1.2M75.6,121.0h1.2M61.8,120.5h1.2M62.4,118.5h1.2M70.5,119.9h1.2M61.9,119.7h1.2M75.5,118.3h1.2M75.8,120.9h1.2M73.8,118.2h1.2M77.7,114.9h1.2" stroke="rgb(80,80,80)" stroke-width="1.2"/>
<path d="M75.8,118.3h1.2M71.3,122.9h1.2M69.6,124.2h1.2M69.9,118.6h1.2M73.2,112.3h1.2M66.3,121.1h1.2M74.9,118.3h1.2M67.4,115.4h1.2M70.8,120.5h1.2M67.0,114.0h1.2M69.0,122.4h1.2M84.6,119.2h1.2M81.4,121.7h1.2M84.5,111.2h1.2M65.4,126.0h1.2M65.0,121.3h1.2M65.2,119.2h1.2M67.9,119.6h1.2M69.9,113.7h1.2M77.1,123.2h1.2M73.2,113.7h1.2M62.0,120.4h1.2M72.1,119.9h1.2M73.3,125.0h1.2M67.3,115.9h1.2M71.0,119.9h1.2M71.1,118.6h1.2M71.8,120.9h1.2M79.1,122.1h1.2M71.5,119.4h1.2M58.2,122.5h1.2M72.1,121.9h1.2M67.2,114.6h1.2M69.1,124.6h1.2M76.5,120.0h1.2M72.1,118.4h1.2M62.6,113.8h1.2M76.5,112.4h1.2M70.3,117.9h1.2M68.5,114.1h1.2M73.6,117.5h1.2M65.7,126.7h1.2M82.6,123.2h1.2M76.6,117.9h1.2M75.4,114.7h1.2M80.3,122.1h1.2M73.3,115.6h1.2M54.6,115.0h1.2M68.6,116.0h1.2M69.8,115.4h1.2M61.7,119.2h1.2M75.1,119.1h1.2M64.1,121.0h1.2M75.3,117.8h1.2M83.9,119.0h1.2M71.8,114.1h1.2M63.0,111.9h1.2M73.2,121.2h1.2M71.9,117.5h1.2M82.1,119.8h1.2M83.3,119.6h1.2M75.8,115.5h1.2M83.1,117.2h1.2M70.1,118.2h1.2M70.8,118.3h1.2M74.9,117.0h1.2M67.0,122.1h1.2M72.5,116.2h1.2M71.1,122.5h1.2M74.6,117.9h1.2M77.5,123.9h1.2M69.8,119.6h1.2M68.1,117.7h1.2M80.1,121.7h1.2M68.3,119.0h1.2M71.7,118.3h1.2M75.7,116.1h1.2M72.7,117.6h1.2M77.1,114.9h1.2M77.6,117.2h1.2M64.1,119.7h1.2M69.8,122.5h1.2M69.8,118.8h1.2M58.9,115.3h1.2M64.9,116.7h1.2M71.6,123.1h1.2M67.9,121.4h1.2M70.8,117.6h1.2M65.5,118.5h1.2M76.1,119.9h1.2M67.3,116.6h1.2M76.1,118.2h1.2M76.0,124.0h1.2M63.2,115.8h1.2M78.0,118.8h1.2M78.6,109.7h1.2M67.4,123.8h1.2M66.8,121.8h1.2M71.0,122.8h1.2M77.7,122.2h1.2M74.2,122.8h1.2M76.4,117.3h1.2M71.0,117.5h1.2M77.2,114.7h1.2M70.1,118.1h1.2M65.9,118.0h1.2M68.1,119.5h1.2M76.1,123.6h1.2M72.1,116.8h1.2M77.1,122.4h1.2M64.6,116.5h1.2M67.9,117.7h1.2M65.3,117.3h1.2M69.6,120.0h1.2M59.5,120.5h1.2" stroke="rgb(160,160,160)" stroke-width="1.2"/>
</g>
<polygon points="47.2,115.7 66.2,107.1 83.4,107.1 99.7,122.6 92,125.5 51.5,127.8" fill="none" stroke="#888" stroke-width="0.9"/>
<text x="91" y="107.5" font-size="12" text-anchor="start" font-family="Liberation Sans, sans-serif" font-weight="bold" textLength="23" lengthAdjust="spacingAndGlyphs" >36%</text>
<text transform="translate(10.9,92.4) rotate(-90)" font-size="14" font-family="Liberation Sans, sans-serif" font-weight="bold" textLength="27.8" lengthAdjust="spacingAndGlyphs">SSC</text>
<line x1="17.30" y1="103.20" x2="17.30" y2="58.20" stroke="#000" stroke-width="2.4" />
<path d="M17.3,52.2 L22.5,66.8 L17.3,62.5 L12.100000000000001,66.8 Z" fill="#000"/>
<line x1="52.60" y1="140.50" x2="94.80" y2="140.50" stroke="#000" stroke-width="2.5" />
<path d="M100.8,140.5 L86.5,135.6 L90.5,140.5 L86.5,145.4 Z" fill="#000"/>
<text x="66.8" y="156.0" font-size="14" text-anchor="start" font-family="Liberation Sans, sans-serif" font-weight="bold" textLength="26.8" lengthAdjust="spacingAndGlyphs" >FSC</text>
<rect x="26.10" y="165.70" width="105.80" height="107.60" fill="#fff" stroke="#000" stroke-width="2.4" />
<g filter="url(#bl)">
<rect x="54.5" y="199" width="10" height="48" rx="3" fill="#a4a4a4" opacity="0.95"/>
</g>
<g filter="url(#bl2)" opacity="0.9" fill="none">
<path d="M58.5,247.4h2.3M66.6,216.2h2.3M54.0,205.5h2.3M62.9,244.6h2.3M60.6,200.7h2.3M57.4,204.8h2.3M62.7,246.5h2.3M53.8,201.6h2.3M54.2,237.8h2.3M53.3,214.6h2.3M53.8,214.5h2.3M60.5,243.7h2.3M63.9,209.7h2.3M62.6,198.9h2.3M52.7,238.0h2.3M54.2,244.1h2.3M53.8,229.2h2.3M63.7,202.5h2.3M64.2,201.2h2.3M58.7,198.8h2.3M56.6,241.6h2.3M64.5,206.6h2.3M61.9,201.2h2.3M67.7,241.8h2.3M63.3,209.4h2.3M64.8,209.3h2.3M52.6,212.5h2.3M54.4,208.9h2.3" stroke="rgb(80,80,80)" stroke-width="2.3"/>
<path d="M56.7,244.5h2.3M53.3,206.9h2.3M51.9,234.2h2.3M54.1,215.6h2.3M54.1,212.0h2.3M54.5,199.8h2.3M56.8,241.8h2.3M53.1,207.9h2.3M52.5,226.9h2.3M64.2,202.1h2.3M53.4,214.0h2.3M66.1,225.3h2.3M66.1,226.3h2.3M54.3,238.8h2.3M55.6,202.9h2.3M66.9,241.0h2.3M54.1,237.7h2.3M65.1,228.0h2.3M56.0,200.9h2.3M64.6,201.0h2.3M53.7,220.2h2.3M54.8,243.4h2.3M53.4,207.4h2.3M53.7,205.7h2.3M64.8,213.4h2.3M65.0,199.5h2.3M55.0,239.4h2.3M56.6,241.7h2.3M55.6,199.2h2.3M54.7,239.1h2.3M55.1,243.9h2.3M65.0,232.4h2.3M54.9,241.8h2.3M54.9,248.8h2.3" stroke="rgb(20,20,20)" stroke-width="2.3"/>
<path d="M62.8,248.8h1.8M53.8,211.2h1.8M56.5,242.7h1.8M52.6,235.6h1.8M62.6,202.7h1.8M55.1,246.9h1.8M58.3,248.4h1.8M54.9,245.6h1.8M52.9,237.6h1.8M60.2,198.9h1.8M63.2,245.1h1.8M55.8,199.6h1.8M65.9,208.0h1.8M61.6,202.1h1.8M55.6,240.8h1.8M63.3,247.9h1.8M54.0,241.2h1.8M53.0,205.2h1.8M65.2,246.1h1.8M55.0,202.1h1.8M65.1,227.5h1.8M53.5,210.6h1.8M66.3,238.5h1.8M53.8,198.9h1.8M63.8,200.1h1.8M54.2,204.4h1.8M62.0,243.5h1.8" stroke="rgb(80,80,80)" stroke-width="1.8"/>
<path d="M58.2,237.7h1.3M62.5,201.7h1.3M61.8,248.8h1.3M64.8,199.4h1.3M66.5,207.4h1.3M61.6,196.8h1.3M64.7,204.3h1.3M64.1,235.2h1.3M66.6,239.5h1.3M56.8,208.1h1.3M53.5,228.8h1.3M58.7,205.5h1.3M66.1,215.7h1.3M65.3,217.5h1.3M54.8,239.2h1.3M55.9,198.8h1.3M66.3,200.4h1.3M55.1,208.6h1.3M52.8,234.3h1.3M53.9,202.4h1.3M55.1,203.1h1.3M61.4,202.5h1.3" stroke="rgb(20,20,20)" stroke-width="1.3"/>
<path d="M63.0,246.5h1.8M53.7,234.4h1.8M52.4,211.3h1.8M63.2,241.2h1.8M54.1,243.0h1.8M64.1,200.8h1.8M65.9,221.1h1.8M62.4,199.6h1.8M65.1,209.6h1.8M54.2,204.8h1.8M56.5,204.3h1.8M52.9,236.6h1.8M63.4,201.8h1.8M53.3,214.5h1.8M53.5,212.8h1.8M52.8,237.0h1.8M54.0,209.2h1.8M56.8,208.6h1.8M53.3,226.9h1.8M55.9,245.8h1.8M56.7,243.4h1.8M61.7,246.1h1.8M53.3,210.4h1.8M65.5,212.6h1.8M51.9,235.1h1.8M64.6,236.5h1.8M52.9,208.1h1.8M56.9,199.6h1.8M64.3,203.4h1.8M64.2,201.0h1.8M54.2,199.6h1.8M65.8,239.7h1.8M62.0,244.6h1.8M62.2,204.3h1.8M63.2,239.3h1.8M57.5,206.4h1.8M60.9,201.7h1.8M61.1,207.5h1.8M56.2,207.6h1.8M59.9,243.6h1.8M59.2,218.9h1.8M59.3,236.8h1.8M58.3,201.1h1.8M60.0,238.1h1.8M60.4,225.1h1.8M59.6,226.4h1.8" stroke="rgb(110,110,110)" stroke-width="1.8"/>
<path d="M65.1,209.0h1.3M60.6,248.1h1.3M53.6,212.7h1.3M52.5,212.1h1.3M65.1,210.9h1.3M54.2,207.3h1.3M63.6,202.6h1.3M56.8,247.0h1.3M58.0,245.3h1.3M66.7,240.7h1.3M63.3,227.2h1.3M51.7,234.2h1.3M58.2,197.6h1.3M60.7,202.7h1.3M63.5,201.6h1.3M55.3,199.5h1.3M51.7,231.9h1.3M54.4,234.8h1.3M63.6,240.1h1.3M55.2,243.0h1.3M53.6,201.9h1.3M53.5,229.2h1.3M63.6,241.8h1.3M54.4,229.3h1.3M53.9,244.7h1.3" stroke="rgb(80,80,80)" stroke-width="1.3"/>
<path d="M63.2,245.0h1.3M55.1,248.7h1.3M56.1,202.6h1.3M66.7,213.7h1.3M58.5,246.7h1.3M55.1,240.8h1.3M62.3,241.7h1.3M51.7,235.6h1.3M67.1,217.5h1.3M57.4,204.0h1.3M51.7,241.1h1.3M53.3,216.1h1.3M65.8,207.5h1.3M65.6,241.5h1.3M54.5,214.3h1.3M64.3,207.6h1.3M54.2,210.4h1.3M63.5,244.5h1.3M63.2,243.5h1.3M64.6,237.9h1.3M54.7,238.2h1.3M63.2,203.7h1.3M65.3,244.7h1.3M65.5,240.4h1.3M55.1,240.4h1.3M54.7,234.0h1.3M53.8,215.8h1.3M65.3,233.5h1.3M66.3,211.7h1.3M57.3,214.1h1.3M59.9,209.2h1.3M57.5,243.5h1.3M59.5,202.9h1.3M59.7,205.9h1.3M61.8,205.1h1.3M61.6,205.9h1.3M61.2,222.7h1.3M57.6,237.5h1.3M56.0,223.7h1.3M61.1,212.4h1.3" stroke="rgb(110,110,110)" stroke-width="1.3"/>
<path d="M52.5,208.9h2.3M55.8,201.3h2.3M66.3,227.2h2.3M55.5,204.0h2.3M65.8,208.3h2.3M53.3,206.9h2.3M56.6,199.4h2.3M64.5,242.3h2.3M54.1,205.7h2.3M53.0,240.0h2.3M61.3,245.4h2.3M56.6,242.3h2.3M64.8,205.1h2.3M54.8,200.9h2.3M53.6,219.1h2.3M65.3,234.5h2.3M55.0,197.0h2.3M65.5,237.8h2.3" stroke="rgb(110,110,110)" stroke-width="2.3"/>
<path d="M55.6,246.7h1.3M55.5,204.8h1.3M64.5,208.4h1.3M54.4,204.0h1.3M61.4,246.2h1.3M62.5,235.2h1.3M55.1,207.1h1.3M65.1,242.5h1.3M62.3,200.1h1.3M54.3,243.0h1.3M55.0,215.5h1.3M52.7,239.2h1.3M66.3,206.4h1.3M62.9,203.5h1.3M64.9,223.8h1.3M64.7,241.7h1.3M64.4,248.6h1.3M55.8,243.5h1.3M64.3,238.5h1.3M55.7,196.6h1.3M60.3,204.2h1.3M54.5,224.6h1.3M52.9,232.2h1.3M65.2,220.3h1.3M54.3,227.0h1.3M65.2,208.4h1.3M54.5,241.0h1.3M65.0,204.6h1.3M54.0,205.1h1.3M52.8,231.9h1.3M55.9,244.8h1.3M53.3,201.6h1.3M76.6,218.8h1.3M72.8,227.3h1.3M76.2,219.8h1.3M78.0,208.2h1.3M74.2,232.2h1.3M75.2,208.8h1.3M76.2,233.0h1.3M78.7,214.3h1.3M75.7,219.7h1.3M77.0,226.0h1.3M81.2,204.5h1.3M84.2,203.2h1.3M75.3,215.2h1.3" stroke="rgb(50,50,50)" stroke-width="1.3"/>
<path d="M65.0,214.3h1.8M64.9,207.7h1.8M54.5,238.7h1.8M61.5,204.0h1.8M62.3,241.4h1.8M58.7,202.5h1.8M64.9,232.6h1.8M52.5,235.4h1.8M60.4,246.2h1.8M55.4,243.6h1.8M64.2,242.8h1.8M58.3,247.8h1.8M60.0,247.2h1.8M65.1,237.9h1.8M65.6,231.8h1.8M54.8,207.2h1.8M57.5,197.1h1.8M53.5,212.8h1.8M62.5,206.4h1.8M61.8,239.1h1.8M63.5,205.0h1.8M53.8,226.6h1.8M61.9,203.8h1.8M62.4,249.4h1.8" stroke="rgb(50,50,50)" stroke-width="1.8"/>
<path d="M55.4,248.1h2.3M53.7,247.1h2.3M64.2,231.2h2.3M52.8,211.0h2.3M56.7,202.8h2.3M53.9,210.7h2.3M63.9,239.5h2.3M55.4,246.0h2.3M54.7,209.5h2.3M64.2,218.1h2.3M56.1,199.6h2.3M66.0,217.7h2.3M64.0,242.1h2.3M61.0,203.4h2.3M53.9,237.3h2.3M64.8,244.2h2.3M65.1,207.9h2.3M54.9,243.2h2.3M62.1,199.7h2.3M63.9,237.4h2.3M65.2,206.1h2.3M52.2,227.6h2.3M62.3,201.3h2.3M55.4,200.5h2.3M63.7,203.5h2.3M65.7,211.0h2.3" stroke="rgb(50,50,50)" stroke-width="2.3"/>
<path d="M55.8,246.0h1.8M58.1,199.4h1.8M65.0,226.1h1.8M64.0,243.4h1.8M60.5,247.5h1.8M65.9,244.1h1.8M61.4,247.8h1.8M53.2,230.1h1.8M66.0,217.7h1.8M53.7,213.4h1.8M57.9,198.7h1.8M54.1,230.5h1.8M62.8,235.5h1.8M57.4,202.6h1.8M65.2,227.7h1.8M55.2,244.7h1.8M53.3,207.4h1.8M53.7,207.6h1.8M65.3,229.2h1.8M61.6,197.5h1.8M54.8,200.2h1.8M65.7,235.8h1.8M64.5,239.2h1.8M55.6,221.8h1.8M64.3,203.0h1.8" stroke="rgb(20,20,20)" stroke-width="1.8"/>
<path d="M60.0,240.3h1.8M58.5,223.7h1.8M60.3,232.7h1.8M56.0,205.7h1.8M56.6,221.7h1.8M57.8,227.1h1.8M59.6,224.8h1.8M58.1,220.1h1.8M57.8,242.9h1.8M56.8,200.2h1.8" stroke="rgb(200,200,200)" stroke-width="1.8"/>
<path d="M56.3,203.4h1.8M56.4,207.2h1.8M60.8,218.3h1.8M58.6,228.1h1.8M57.4,202.9h1.8M60.9,202.6h1.8M61.9,223.4h1.8M57.2,222.9h1.8" stroke="rgb(140,140,140)" stroke-width="1.8"/>
<path d="M62.2,226.7h1.3M62.0,208.6h1.3M57.5,216.0h1.3M60.7,242.2h1.3M61.1,233.2h1.3M60.1,244.0h1.3M57.4,210.7h1.3M62.3,237.0h1.3M61.9,238.9h1.3M60.7,245.2h1.3" stroke="rgb(200,200,200)" stroke-width="1.3"/>
<path d="M58.0,208.6h1.3M59.7,200.6h1.3M56.9,236.5h1.3M62.5,213.4h1.3M56.2,200.6h1.3M56.6,217.2h1.3M61.2,237.1h1.3M60.9,216.6h1.3M60.6,208.7h1.3M59.7,201.7h1.3M59.6,225.6h1.3M57.8,205.1h1.3M56.4,213.1h1.3M56.2,236.7h1.3" stroke="rgb(225,225,225)" stroke-width="1.3"/>
<path d="M56.3,220.9h1.8M58.4,237.8h1.8M62.5,235.0h1.8M59.1,213.9h1.8M56.1,218.4h1.8M61.4,212.8h1.8M60.9,244.2h1.8M61.6,231.6h1.8M61.1,230.8h1.8" stroke="rgb(225,225,225)" stroke-width="1.8"/>
<path d="M57.1,239.2h1.3M61.6,220.5h1.3M58.9,203.9h1.3M59.3,224.4h1.3M59.5,203.0h1.3M57.2,214.8h1.3M56.5,238.5h1.3" stroke="rgb(140,140,140)" stroke-width="1.3"/>
<path d="M51.5,225.9h1.2M52.9,226.9h1.2M66.9,235.1h1.2M68.4,223.6h1.2M53.4,207.7h1.2M69.4,220.9h1.2M52.6,238.5h1.2M52.0,232.5h1.2M69.4,240.8h1.2M52.7,201.9h1.2M68.0,234.6h1.2M52.4,209.0h1.2M52.8,221.1h1.2M67.6,206.7h1.2M67.0,222.7h1.2" stroke="rgb(160,160,160)" stroke-width="1.2"/>
<path d="M67.1,239.1h1.2M52.5,243.0h1.2M53.3,243.1h1.2M52.4,223.1h1.2M66.9,231.3h1.2M53.4,223.8h1.2M68.0,221.3h1.2M52.7,214.3h1.2" stroke="rgb(90,90,90)" stroke-width="1.2"/>
<path d="M67.2,237.6h1.2M66.6,231.0h1.2M69.4,230.5h1.2M52.6,212.8h1.2M53.0,204.1h1.2M68.6,212.5h1.2M66.5,246.6h1.2M51.4,230.2h1.2M67.7,201.2h1.2M51.8,227.1h1.2M52.5,221.0h1.2M66.9,218.7h1.2M51.9,237.6h1.2M67.9,220.1h1.2M68.7,243.0h1.2M51.7,201.7h1.2M52.0,235.2h1.2" stroke="rgb(130,130,130)" stroke-width="1.2"/>
<path d="M63.5,209.5h3M62.8,230.5h3M62.0,245.5h3M54.5,206.0h3" stroke="rgb(40,40,40)" stroke-width="3"/>
<path d="M64.5,212.5h3M63.3,234.0h3M64.5,221.0h3M53.5,224.0h3M54.0,236.0h3M55.0,243.0h3M57.5,199.5h3" stroke="rgb(10,10,10)" stroke-width="3"/>
<path d="M72.9,240.1h1.7M75.1,239.1h1.7M75.6,242.7h1.7M78.2,243.9h1.7M74.2,245.7h1.7M76.1,242.4h1.7M72.9,244.0h1.7M74.8,241.3h1.7M75.6,240.0h1.7M75.0,245.1h1.7M78.1,242.8h1.7M74.0,242.5h1.7M73.6,243.8h1.7M70.1,244.6h1.7M79.3,242.8h1.7M75.8,241.5h1.7M70.7,243.3h1.7M71.6,244.2h1.7M76.8,243.9h1.7M76.7,241.6h1.7M78.1,242.4h1.7M76.6,241.4h1.7M72.9,240.1h1.7M73.9,238.3h1.7M76.1,243.7h1.7M76.5,243.1h1.7M74.5,243.3h1.7M77.9,242.8h1.7M74.5,241.8h1.7M75.9,242.8h1.7M75.0,240.5h1.7M76.8,243.1h1.7M76.0,242.1h1.7M77.3,242.3h1.7M74.7,241.2h1.7M77.5,238.3h1.7M74.1,241.3h1.7M72.4,244.8h1.7M74.2,239.1h1.7M72.9,243.2h1.7M75.6,238.4h1.7M75.5,242.1h1.7M77.4,243.8h1.7" stroke="rgb(50,50,50)" stroke-width="1.7"/>
<path d="M74.5,241.8h1.7M76.1,243.3h1.7M77.8,242.7h1.7M76.2,245.4h1.7M77.6,244.2h1.7M75.9,244.7h1.7M75.5,241.8h1.7M75.2,241.3h1.7M72.7,241.1h1.7M76.0,241.8h1.7M73.1,239.2h1.7M77.5,240.8h1.7M74.4,243.2h1.7M77.1,245.3h1.7M76.2,242.5h1.7M69.5,247.0h1.7M76.7,241.7h1.7M74.4,244.3h1.7M75.0,240.9h1.7M76.6,242.3h1.7M73.4,245.8h1.7M79.5,242.7h1.7M71.3,243.3h1.7M75.4,241.2h1.7M74.3,243.2h1.7M76.8,240.7h1.7M73.5,241.6h1.7M71.9,245.5h1.7M72.5,241.8h1.7M74.9,242.6h1.7M76.8,243.6h1.7M77.9,243.1h1.7M74.7,241.2h1.7M73.9,242.1h1.7" stroke="rgb(0,0,0)" stroke-width="1.7"/>
<path d="M78.5,240.8h1.7M76.5,243.5h1.7M75.6,242.0h1.7M71.6,241.9h1.7M76.5,242.0h1.7M73.6,243.0h1.7M75.4,243.0h1.7M72.8,240.6h1.7M75.6,239.9h1.7M77.0,242.2h1.7M75.2,242.2h1.7M77.6,243.8h1.7M70.1,240.8h1.7M77.2,243.6h1.7M73.9,241.4h1.7M74.4,241.9h1.7M73.7,241.6h1.7M76.3,244.5h1.7M79.3,239.8h1.7M75.0,243.2h1.7M71.0,244.6h1.7M78.7,241.3h1.7M79.2,244.3h1.7M74.3,238.9h1.7M73.9,241.5h1.7M75.5,241.4h1.7M73.6,244.5h1.7M73.3,242.0h1.7M75.9,240.3h1.7M79.6,241.7h1.7M75.3,242.5h1.7M77.1,241.5h1.7M78.1,243.3h1.7" stroke="rgb(20,20,20)" stroke-width="1.7"/>
<path d="M78.6,211.0h1.3M73.4,227.9h1.3M81.7,208.4h1.3M73.9,218.5h1.3M77.3,207.2h1.3M77.5,206.4h1.3M74.7,217.6h1.3M75.7,225.6h1.3M73.7,233.5h1.3M74.5,218.9h1.3M72.0,232.8h1.3M81.3,208.0h1.3M73.5,226.2h1.3M80.0,205.1h1.3M78.1,227.6h1.3M80.2,207.6h1.3M73.0,218.9h1.3M75.5,219.6h1.3" stroke="rgb(90,90,90)" stroke-width="1.3"/>
<path d="M78.4,212.2h1.3M81.2,205.6h1.3M79.3,213.8h1.3M77.3,215.9h1.3M76.5,231.3h1.3M75.6,216.2h1.3M79.7,214.5h1.3M77.2,202.6h1.3M81.9,207.4h1.3" stroke="rgb(130,130,130)" stroke-width="1.3"/>
</g>
<rect x="70.00" y="194.80" width="23.00" height="26.60" fill="none" stroke="#b8b8b8" stroke-width="1.4" />
<rect x="70.00" y="221.40" width="23.00" height="30.60" fill="none" stroke="#b8b8b8" stroke-width="1.4" />
<text x="97.3" y="216.7" font-size="12" text-anchor="start" font-family="Liberation Sans, sans-serif" font-weight="bold" textLength="23" lengthAdjust="spacingAndGlyphs" >28%</text>
<text x="76.5" y="265.4" font-size="12" text-anchor="start" font-family="Liberation Sans, sans-serif" font-weight="bold" textLength="17" lengthAdjust="spacingAndGlyphs" >3%</text>
<text transform="translate(12.7,241.8) rotate(-90)" font-size="14.3" font-family="Liberation Sans, sans-serif" font-weight="bold" textLength="42.2" lengthAdjust="spacingAndGlyphs">DR-PE</text>
<line x1="17.90" y1="247.00" x2="17.90" y2="202.00" stroke="#000" stroke-width="2.4" />
<path d="M17.9,196 L23.099999999999998,210.6 L17.9,206.3 L12.7,210.6 Z" fill="#000"/>
<line x1="53.60" y1="281.60" x2="95.80" y2="281.60" stroke="#000" stroke-width="2.5" />
<path d="M101.8,281.6 L87.5,276.70000000000005 L91.5,281.6 L87.5,286.5 Z" fill="#000"/>
<text x="54.2" y="299.6" font-size="14" text-anchor="start" font-family="Liberation Sans, sans-serif" font-weight="bold" textLength="64" lengthAdjust="spacingAndGlyphs" >CD4-FITC</text>
<line x1="197.60" y1="24.50" x2="197.60" y2="272.60" stroke="#000" stroke-width="1.1" />
<line x1="197.00" y1="272.10" x2="522.00" y2="272.10" stroke="#000" stroke-width="1.3" />
<line x1="195.40" y1="272.10" x2="197.60" y2="272.10" stroke="#000" stroke-width="1.2" />
<text x="187.8" y="279.70000000000005" font-size="11.8" text-anchor="end" font-family="Liberation Sans, sans-serif" font-weight="bold" >0</text>
<line x1="195.40" y1="236.85" x2="197.60" y2="236.85" stroke="#000" stroke-width="1.2" />
<text x="191.3" y="244.65000000000003" font-size="11.8" text-anchor="end" font-family="Liberation Sans, sans-serif" font-weight="bold" textLength="14.9" lengthAdjust="spacingAndGlyphs" >0.1</text>
<line x1="195.40" y1="201.60" x2="197.60" y2="201.60" stroke="#000" stroke-width="1.2" />
<text x="191.3" y="209.40000000000003" font-size="11.8" text-anchor="end" font-family="Liberation Sans, sans-serif" font-weight="bold" textLength="14.9" lengthAdjust="spacingAndGlyphs" >0.2</text>
<line x1="195.40" y1="166.35" x2="197.60" y2="166.35" stroke="#000" stroke-width="1.2" />
<text x="191.3" y="174.15000000000003" font-size="11.8" text-anchor="end" font-family="Liberation Sans, sans-serif" font-weight="bold" textLength="14.9" lengthAdjust="spacingAndGlyphs" >0.3</text>
<line x1="195.40" y1="131.10" x2="197.60" y2="131.10" stroke="#000" stroke-width="1.2" />
<text x="191.3" y="138.90000000000003" font-size="11.8" text-anchor="end" font-family="Liberation Sans, sans-serif" font-weight="bold" textLength="14.9" lengthAdjust="spacingAndGlyphs" >0.4</text>
<line x1="195.40" y1="95.85" x2="197.60" y2="95.85" stroke="#000" stroke-width="1.2" />
<text x="191.3" y="103.65000000000002" font-size="11.8" text-anchor="end" font-family="Liberation Sans, sans-serif" font-weight="bold" textLength="14.9" lengthAdjust="spacingAndGlyphs" >0.5</text>
<line x1="195.40" y1="60.60" x2="197.60" y2="60.60" stroke="#000" stroke-width="1.2" />
<text x="191.3" y="68.40000000000002" font-size="11.8" text-anchor="end" font-family="Liberation Sans, sans-serif" font-weight="bold" textLength="14.9" lengthAdjust="spacingAndGlyphs" >0.6</text>
<line x1="195.40" y1="25.35" x2="197.60" y2="25.35" stroke="#000" stroke-width="1.2" />
<text x="191.3" y="33.15000000000005" font-size="11.8" text-anchor="end" font-family="Liberation Sans, sans-serif" font-weight="bold" textLength="14.9" lengthAdjust="spacingAndGlyphs" >0.7</text>
<line x1="197.60" y1="272.10" x2="197.60" y2="275.10" stroke="#000" stroke-width="1.2" />
<line x1="211.00" y1="227.97" x2="211.00" y2="228.50" stroke="#000" stroke-width="1.9" />
<line x1="208.80" y1="228.47" x2="213.20" y2="228.47" stroke="#000" stroke-width="1.8" />
<rect x="207.40" y="228.50" width="7.20" height="43.60" fill="#000" />
<text x="207.95000000000002" y="292" font-size="12" text-anchor="middle" font-family="Liberation Sans, sans-serif" font-weight="bold" textLength="13.2" lengthAdjust="spacingAndGlyphs" >24</text>
<line x1="217.70" y1="272.10" x2="217.70" y2="275.10" stroke="#000" stroke-width="1.2" />
<line x1="231.10" y1="209.75" x2="231.10" y2="219.75" stroke="#000" stroke-width="1.9" />
<line x1="228.90" y1="210.25" x2="233.30" y2="210.25" stroke="#000" stroke-width="1.8" />
<rect x="227.50" y="219.75" width="7.20" height="52.35" fill="#000" />
<text x="228.05" y="292" font-size="12" text-anchor="middle" font-family="Liberation Sans, sans-serif" font-weight="bold" textLength="13.2" lengthAdjust="spacingAndGlyphs" >34</text>
<line x1="237.80" y1="272.10" x2="237.80" y2="275.10" stroke="#000" stroke-width="1.2" />
<rect x="242.60" y="254.90" width="5.00" height="17.20" fill="#fff" stroke="#000" stroke-width="1.2" />
<line x1="251.20" y1="205.90" x2="251.20" y2="217.20" stroke="#000" stroke-width="1.9" />
<line x1="249.00" y1="206.40" x2="253.40" y2="206.40" stroke="#000" stroke-width="1.8" />
<rect x="247.60" y="217.20" width="7.20" height="54.90" fill="#000" />
<text x="248.15000000000003" y="292" font-size="12" text-anchor="middle" font-family="Liberation Sans, sans-serif" font-weight="bold" textLength="13.2" lengthAdjust="spacingAndGlyphs" >35</text>
<line x1="257.90" y1="272.10" x2="257.90" y2="275.10" stroke="#000" stroke-width="1.2" />
<rect x="262.70" y="258.40" width="5.00" height="13.70" fill="#fff" stroke="#000" stroke-width="1.2" />
<line x1="271.30" y1="197.50" x2="271.30" y2="206.20" stroke="#000" stroke-width="1.9" />
<line x1="269.10" y1="198.00" x2="273.50" y2="198.00" stroke="#000" stroke-width="1.8" />
<rect x="267.70" y="206.20" width="7.20" height="65.90" fill="#000" />
<text x="268.25" y="292" font-size="12" text-anchor="middle" font-family="Liberation Sans, sans-serif" font-weight="bold" textLength="13.2" lengthAdjust="spacingAndGlyphs" >38</text>
<line x1="278.00" y1="272.10" x2="278.00" y2="275.10" stroke="#000" stroke-width="1.2" />
<line x1="291.40" y1="226.80" x2="291.40" y2="233.40" stroke="#000" stroke-width="1.9" />
<line x1="289.20" y1="227.30" x2="293.60" y2="227.30" stroke="#000" stroke-width="1.8" />
<rect x="287.80" y="233.40" width="7.20" height="38.70" fill="#000" />
<text x="288.35" y="292" font-size="12" text-anchor="middle" font-family="Liberation Sans, sans-serif" font-weight="bold" textLength="13.2" lengthAdjust="spacingAndGlyphs" >39</text>
<line x1="298.10" y1="272.10" x2="298.10" y2="275.10" stroke="#000" stroke-width="1.2" />
<line x1="311.50" y1="190.00" x2="311.50" y2="203.75" stroke="#000" stroke-width="1.9" />
<line x1="309.30" y1="190.50" x2="313.70" y2="190.50" stroke="#000" stroke-width="1.8" />
<rect x="307.90" y="203.75" width="7.20" height="68.35" fill="#000" />
<text x="308.45000000000005" y="292" font-size="12" text-anchor="middle" font-family="Liberation Sans, sans-serif" font-weight="bold" textLength="13.2" lengthAdjust="spacingAndGlyphs" >46</text>
<line x1="318.20" y1="272.10" x2="318.20" y2="275.10" stroke="#000" stroke-width="1.2" />
<rect x="323.00" y="268.80" width="5.00" height="3.30" fill="#fff" stroke="#000" stroke-width="1.2" />
<line x1="331.60" y1="216.97" x2="331.60" y2="217.50" stroke="#000" stroke-width="1.9" />
<line x1="329.40" y1="217.47" x2="333.80" y2="217.47" stroke="#000" stroke-width="1.8" />
<rect x="328.00" y="217.50" width="7.20" height="54.60" fill="#000" />
<text x="328.55" y="292" font-size="12" text-anchor="middle" font-family="Liberation Sans, sans-serif" font-weight="bold" textLength="13.2" lengthAdjust="spacingAndGlyphs" >54</text>
<line x1="338.30" y1="272.10" x2="338.30" y2="275.10" stroke="#000" stroke-width="1.2" />
<line x1="351.70" y1="157.00" x2="351.70" y2="159.00" stroke="#000" stroke-width="1.9" />
<line x1="349.50" y1="157.50" x2="353.90" y2="157.50" stroke="#000" stroke-width="1.8" />
<rect x="348.10" y="159.00" width="7.20" height="113.10" fill="#000" />
<text x="348.65000000000003" y="292" font-size="12" text-anchor="middle" font-family="Liberation Sans, sans-serif" font-weight="bold" textLength="13.2" lengthAdjust="spacingAndGlyphs" >55</text>
<line x1="358.40" y1="272.10" x2="358.40" y2="275.10" stroke="#000" stroke-width="1.2" />
<line x1="365.30" y1="238.00" x2="365.30" y2="248.00" stroke="#000" stroke-width="1.3" />
<line x1="363.40" y1="238.30" x2="367.20" y2="238.30" stroke="#000" stroke-width="1.3" />
<rect x="363.20" y="248.60" width="5.00" height="23.50" fill="#fff" stroke="#000" stroke-width="1.2" />
<line x1="371.80" y1="111.77" x2="371.80" y2="112.30" stroke="#000" stroke-width="1.9" />
<line x1="369.60" y1="112.27" x2="374.00" y2="112.27" stroke="#000" stroke-width="1.8" />
<rect x="368.20" y="112.30" width="7.20" height="159.80" fill="#000" />
<text x="368.75" y="292" font-size="12" text-anchor="middle" font-family="Liberation Sans, sans-serif" font-weight="bold" textLength="13.2" lengthAdjust="spacingAndGlyphs" >62</text>
<line x1="378.50" y1="272.10" x2="378.50" y2="275.10" stroke="#000" stroke-width="1.2" />
<line x1="391.90" y1="189.00" x2="391.90" y2="191.00" stroke="#000" stroke-width="1.9" />
<line x1="389.70" y1="189.50" x2="394.10" y2="189.50" stroke="#000" stroke-width="1.8" />
<rect x="388.30" y="191.00" width="7.20" height="81.10" fill="#000" />
<text x="388.85" y="292" font-size="12" text-anchor="middle" font-family="Liberation Sans, sans-serif" font-weight="bold" textLength="13.2" lengthAdjust="spacingAndGlyphs" >69</text>
<line x1="398.60" y1="272.10" x2="398.60" y2="275.10" stroke="#000" stroke-width="1.2" />
<rect x="403.40" y="261.60" width="5.00" height="10.50" fill="#fff" stroke="#000" stroke-width="1.2" />
<line x1="412.00" y1="112.30" x2="412.00" y2="123.00" stroke="#000" stroke-width="1.9" />
<line x1="409.80" y1="112.80" x2="414.20" y2="112.80" stroke="#000" stroke-width="1.8" />
<rect x="408.40" y="123.00" width="7.20" height="149.10" fill="#000" />
<text x="408.95000000000005" y="292" font-size="12" text-anchor="middle" font-family="Liberation Sans, sans-serif" font-weight="bold" textLength="13.2" lengthAdjust="spacingAndGlyphs" >78</text>
<line x1="418.70" y1="272.10" x2="418.70" y2="275.10" stroke="#000" stroke-width="1.2" />
<line x1="425.60" y1="256.00" x2="425.60" y2="263.00" stroke="#000" stroke-width="1.3" />
<line x1="423.70" y1="256.30" x2="427.50" y2="256.30" stroke="#000" stroke-width="1.3" />
<rect x="423.50" y="263.60" width="5.00" height="8.50" fill="#fff" stroke="#000" stroke-width="1.2" />
<line x1="432.10" y1="141.00" x2="432.10" y2="152.60" stroke="#000" stroke-width="1.9" />
<line x1="429.90" y1="141.50" x2="434.30" y2="141.50" stroke="#000" stroke-width="1.8" />
<rect x="428.50" y="152.60" width="7.20" height="119.50" fill="#000" />
<text x="429.05000000000007" y="292" font-size="12" text-anchor="middle" font-family="Liberation Sans, sans-serif" font-weight="bold" textLength="13.2" lengthAdjust="spacingAndGlyphs" >79</text>
<line x1="438.80" y1="272.10" x2="438.80" y2="275.10" stroke="#000" stroke-width="1.2" />
<rect x="443.60" y="244.60" width="5.00" height="27.50" fill="#fff" stroke="#000" stroke-width="1.2" />
<line x1="452.20" y1="147.00" x2="452.20" y2="157.00" stroke="#000" stroke-width="1.9" />
<line x1="450.00" y1="147.50" x2="454.40" y2="147.50" stroke="#000" stroke-width="1.8" />
<rect x="448.60" y="157.00" width="7.20" height="115.10" fill="#000" />
<text x="449.15000000000003" y="292" font-size="12" text-anchor="middle" font-family="Liberation Sans, sans-serif" font-weight="bold" textLength="13.2" lengthAdjust="spacingAndGlyphs" >80</text>
<line x1="458.90" y1="272.10" x2="458.90" y2="275.10" stroke="#000" stroke-width="1.2" />
<line x1="465.80" y1="267.00" x2="465.80" y2="269.00" stroke="#000" stroke-width="1.3" />
<line x1="463.90" y1="267.30" x2="467.70" y2="267.30" stroke="#000" stroke-width="1.3" />
<rect x="463.70" y="269.60" width="5.00" height="2.50" fill="#fff" stroke="#000" stroke-width="1.2" />
<line x1="472.30" y1="65.30" x2="472.30" y2="81.20" stroke="#000" stroke-width="1.9" />
<line x1="470.10" y1="65.80" x2="474.50" y2="65.80" stroke="#000" stroke-width="1.8" />
<rect x="468.70" y="81.20" width="7.20" height="190.90" fill="#000" />
<text x="469.25" y="292" font-size="12" text-anchor="middle" font-family="Liberation Sans, sans-serif" font-weight="bold" textLength="13.2" lengthAdjust="spacingAndGlyphs" >87</text>
<line x1="479.00" y1="272.10" x2="479.00" y2="275.10" stroke="#000" stroke-width="1.2" />
<line x1="492.40" y1="64.70" x2="492.40" y2="75.20" stroke="#000" stroke-width="1.9" />
<line x1="490.20" y1="65.20" x2="494.60" y2="65.20" stroke="#000" stroke-width="1.8" />
<rect x="488.80" y="75.20" width="7.20" height="196.90" fill="#000" />
<text x="489.35" y="292" font-size="12" text-anchor="middle" font-family="Liberation Sans, sans-serif" font-weight="bold" textLength="13.2" lengthAdjust="spacingAndGlyphs" >92</text>
<line x1="499.10" y1="272.10" x2="499.10" y2="275.10" stroke="#000" stroke-width="1.2" />
<rect x="503.90" y="263.60" width="5.00" height="8.50" fill="#fff" stroke="#000" stroke-width="1.2" />
<line x1="512.50" y1="121.60" x2="512.50" y2="134.00" stroke="#000" stroke-width="1.9" />
<line x1="510.30" y1="122.10" x2="514.70" y2="122.10" stroke="#000" stroke-width="1.8" />
<rect x="508.90" y="134.00" width="7.20" height="138.10" fill="#000" />
<text x="510.75000000000006" y="292" font-size="12" text-anchor="middle" font-family="Liberation Sans, sans-serif" font-weight="bold" textLength="19.5" lengthAdjust="spacingAndGlyphs" >100</text>
<line x1="519.20" y1="272.10" x2="519.20" y2="275.10" stroke="#000" stroke-width="1.2" />
<line x1="195.8" y1="183.5" x2="524" y2="183.5" stroke="#000" stroke-width="2.4" stroke-dasharray="9.8 6.5 3 6.9"/>
<rect x="204.90" y="25.20" width="6.90" height="7.60" fill="#fff" stroke="#000" stroke-width="1.4" />
<rect x="204.20" y="40.30" width="8.30" height="9.00" fill="#000" />
<text x="218.6" y="34.6" font-size="14" text-anchor="start" font-family="Liberation Sans, sans-serif" font-weight="bold" textLength="57.8" lengthAdjust="spacingAndGlyphs" >EBV don</text>
<text x="218.6" y="50.3" font-size="14" text-anchor="start" font-family="Liberation Sans, sans-serif" font-weight="bold" textLength="52.8" lengthAdjust="spacingAndGlyphs" >EBV pat</text>
<text transform="translate(170.8,180.6) rotate(-90)" font-size="13.3" font-family="Liberation Sans, sans-serif" font-weight="bold" textLength="91.8" lengthAdjust="spacingAndGlyphs">IFN-<tspan class="g" font-weight="normal" font-family="Liberation Serif, serif">γ</tspan> (ng/mL)</text>
<line x1="37.00" y1="399.50" x2="37.00" y2="515.10" stroke="#000" stroke-width="1.3" />
<line x1="36.40" y1="514.60" x2="227.00" y2="514.60" stroke="#000" stroke-width="1.3" />
<line x1="34.00" y1="514.60" x2="37.00" y2="514.60" stroke="#000" stroke-width="1.2" />
<text x="32.8" y="520.2" font-size="12.2" text-anchor="end" font-family="Liberation Sans, sans-serif" font-weight="bold" >0</text>
<line x1="34.00" y1="491.65" x2="37.00" y2="491.65" stroke="#000" stroke-width="1.2" />
<text x="31.6" y="496.55" font-size="12.2" text-anchor="end" font-family="Liberation Sans, sans-serif" font-weight="bold" textLength="12.6" lengthAdjust="spacingAndGlyphs" >10</text>
<line x1="34.00" y1="468.70" x2="37.00" y2="468.70" stroke="#000" stroke-width="1.2" />
<text x="31.6" y="473.6" font-size="12.2" text-anchor="end" font-family="Liberation Sans, sans-serif" font-weight="bold" textLength="12.6" lengthAdjust="spacingAndGlyphs" >20</text>
<line x1="34.00" y1="445.75" x2="37.00" y2="445.75" stroke="#000" stroke-width="1.2" />
<text x="31.6" y="450.65" font-size="12.2" text-anchor="end" font-family="Liberation Sans, sans-serif" font-weight="bold" textLength="12.6" lengthAdjust="spacingAndGlyphs" >30</text>
<line x1="34.00" y1="422.80" x2="37.00" y2="422.80" stroke="#000" stroke-width="1.2" />
<text x="31.6" y="427.7" font-size="12.2" text-anchor="end" font-family="Liberation Sans, sans-serif" font-weight="bold" textLength="12.6" lengthAdjust="spacingAndGlyphs" >40</text>
<line x1="34.00" y1="399.85" x2="37.00" y2="399.85" stroke="#000" stroke-width="1.2" />
<text x="31.6" y="404.75" font-size="12.2" text-anchor="end" font-family="Liberation Sans, sans-serif" font-weight="bold" textLength="12.6" lengthAdjust="spacingAndGlyphs" >50</text>
<line x1="45.50" y1="484.77" x2="45.50" y2="493.26" stroke="#000" stroke-width="1.5" />
<line x1="43.60" y1="485.07" x2="47.40" y2="485.07" stroke="#000" stroke-width="1.4" />
<rect x="42.50" y="493.76" width="6.50" height="20.84" fill="#fff" stroke="#000" stroke-width="1" />
<line x1="52.70" y1="434.28" x2="52.70" y2="445.29" stroke="#000" stroke-width="1.5" />
<line x1="50.80" y1="434.58" x2="54.60" y2="434.58" stroke="#000" stroke-width="1.4" />
<rect x="49.00" y="445.29" width="7.40" height="69.31" fill="#000" />
<text x="48.8" y="529.6" font-size="12" text-anchor="middle" font-family="Liberation Sans, sans-serif" font-weight="bold" textLength="13.4" lengthAdjust="spacingAndGlyphs" >55</text>
<line x1="60.70" y1="514.60" x2="60.70" y2="517.10" stroke="#000" stroke-width="1.1" />
<line x1="69.20" y1="498.54" x2="69.20" y2="508.63" stroke="#000" stroke-width="1.5" />
<line x1="67.30" y1="498.84" x2="71.10" y2="498.84" stroke="#000" stroke-width="1.4" />
<rect x="66.20" y="509.13" width="6.50" height="5.47" fill="#fff" stroke="#000" stroke-width="1" />
<line x1="76.40" y1="434.28" x2="76.40" y2="454.24" stroke="#000" stroke-width="1.5" />
<line x1="74.50" y1="434.58" x2="78.30" y2="434.58" stroke="#000" stroke-width="1.4" />
<rect x="72.70" y="454.24" width="7.40" height="60.36" fill="#000" />
<text x="72.5" y="529.6" font-size="12" text-anchor="middle" font-family="Liberation Sans, sans-serif" font-weight="bold" textLength="13.4" lengthAdjust="spacingAndGlyphs" >62</text>
<line x1="84.40" y1="514.60" x2="84.40" y2="517.10" stroke="#000" stroke-width="1.1" />
<line x1="92.90" y1="440.47" x2="92.90" y2="467.55" stroke="#000" stroke-width="1.5" />
<line x1="91.00" y1="440.77" x2="94.80" y2="440.77" stroke="#000" stroke-width="1.4" />
<rect x="89.90" y="468.05" width="6.50" height="46.55" fill="#fff" stroke="#000" stroke-width="1" />
<line x1="100.10" y1="407.88" x2="100.10" y2="421.65" stroke="#000" stroke-width="1.5" />
<line x1="98.20" y1="408.18" x2="102.00" y2="408.18" stroke="#000" stroke-width="1.4" />
<rect x="96.40" y="421.65" width="7.40" height="92.95" fill="#000" />
<text x="96.2" y="529.6" font-size="12" text-anchor="middle" font-family="Liberation Sans, sans-serif" font-weight="bold" textLength="13.4" lengthAdjust="spacingAndGlyphs" >78</text>
<line x1="108.10" y1="514.60" x2="108.10" y2="517.10" stroke="#000" stroke-width="1.1" />
<line x1="116.60" y1="472.83" x2="116.60" y2="486.14" stroke="#000" stroke-width="1.5" />
<line x1="114.70" y1="473.13" x2="118.50" y2="473.13" stroke="#000" stroke-width="1.4" />
<rect x="113.60" y="486.64" width="6.50" height="27.96" fill="#fff" stroke="#000" stroke-width="1" />
<line x1="123.80" y1="411.33" x2="123.80" y2="433.36" stroke="#000" stroke-width="1.5" />
<line x1="121.90" y1="411.63" x2="125.70" y2="411.63" stroke="#000" stroke-width="1.4" />
<rect x="120.10" y="433.36" width="7.40" height="81.24" fill="#000" />
<text x="119.89999999999999" y="529.6" font-size="12" text-anchor="middle" font-family="Liberation Sans, sans-serif" font-weight="bold" textLength="13.4" lengthAdjust="spacingAndGlyphs" >79</text>
<line x1="131.80" y1="514.60" x2="131.80" y2="517.10" stroke="#000" stroke-width="1.1" />
<line x1="140.80" y1="504.96" x2="140.80" y2="514.60" stroke="#000" stroke-width="1.5" />
<line x1="138.90" y1="505.26" x2="142.70" y2="505.26" stroke="#000" stroke-width="1.4" />
<line x1="147.50" y1="413.62" x2="147.50" y2="465.49" stroke="#000" stroke-width="1.5" />
<line x1="145.60" y1="413.92" x2="149.40" y2="413.92" stroke="#000" stroke-width="1.4" />
<rect x="143.80" y="465.49" width="7.40" height="49.11" fill="#000" />
<text x="143.60000000000002" y="529.6" font-size="12" text-anchor="middle" font-family="Liberation Sans, sans-serif" font-weight="bold" textLength="13.4" lengthAdjust="spacingAndGlyphs" >80</text>
<line x1="155.50" y1="514.60" x2="155.50" y2="517.10" stroke="#000" stroke-width="1.1" />
<line x1="171.20" y1="461.36" x2="171.20" y2="477.19" stroke="#000" stroke-width="1.5" />
<line x1="169.30" y1="461.66" x2="173.10" y2="461.66" stroke="#000" stroke-width="1.4" />
<rect x="167.50" y="477.19" width="7.40" height="37.41" fill="#000" />
<text x="167.3" y="529.6" font-size="12" text-anchor="middle" font-family="Liberation Sans, sans-serif" font-weight="bold" textLength="13.4" lengthAdjust="spacingAndGlyphs" >87</text>
<line x1="179.20" y1="514.60" x2="179.20" y2="517.10" stroke="#000" stroke-width="1.1" />
<line x1="187.70" y1="470.54" x2="187.70" y2="495.55" stroke="#000" stroke-width="1.5" />
<line x1="185.80" y1="470.84" x2="189.60" y2="470.84" stroke="#000" stroke-width="1.4" />
<rect x="184.70" y="496.05" width="6.50" height="18.55" fill="#fff" stroke="#000" stroke-width="1" />
<line x1="194.90" y1="413.16" x2="194.90" y2="422.11" stroke="#000" stroke-width="1.5" />
<line x1="193.00" y1="413.46" x2="196.80" y2="413.46" stroke="#000" stroke-width="1.4" />
<rect x="191.20" y="422.11" width="7.40" height="92.49" fill="#000" />
<text x="191.0" y="529.6" font-size="12" text-anchor="middle" font-family="Liberation Sans, sans-serif" font-weight="bold" textLength="13.4" lengthAdjust="spacingAndGlyphs" >92</text>
<line x1="202.90" y1="514.60" x2="202.90" y2="517.10" stroke="#000" stroke-width="1.1" />
<line x1="211.90" y1="477.42" x2="211.90" y2="514.60" stroke="#000" stroke-width="1.5" />
<line x1="210.00" y1="477.72" x2="213.80" y2="477.72" stroke="#000" stroke-width="1.4" />
<line x1="218.60" y1="406.28" x2="218.60" y2="426.70" stroke="#000" stroke-width="1.5" />
<line x1="216.70" y1="406.58" x2="220.50" y2="406.58" stroke="#000" stroke-width="1.4" />
<rect x="214.90" y="426.70" width="7.40" height="87.90" fill="#000" />
<text x="215.9" y="529.6" font-size="12" text-anchor="middle" font-family="Liberation Sans, sans-serif" font-weight="bold" textLength="19.2" lengthAdjust="spacingAndGlyphs" >100</text>
<line x1="226.60" y1="514.60" x2="226.60" y2="517.10" stroke="#000" stroke-width="1.1" />
<rect x="41.80" y="378.50" width="9.00" height="8.80" fill="#fff" stroke="#000" stroke-width="1.2" />
<rect x="41.20" y="392.00" width="10.20" height="9.30" fill="#000" />
<text x="58" y="388.9" font-size="14" text-anchor="start" font-family="Liberation Sans, sans-serif" font-weight="bold" textLength="58.4" lengthAdjust="spacingAndGlyphs" >EBV don</text>
<text x="58" y="403.2" font-size="14" text-anchor="start" font-family="Liberation Sans, sans-serif" font-weight="bold" textLength="53.4" lengthAdjust="spacingAndGlyphs" >EBV pat</text>
<text transform="translate(10,497) rotate(-90)" font-size="13" font-family="Liberation Sans, sans-serif" font-weight="bold" textLength="103.6" lengthAdjust="spacingAndGlyphs">% specific lysis</text>
<line x1="306.60" y1="344.70" x2="306.60" y2="514.10" stroke="#000" stroke-width="1.3" />
<line x1="306.00" y1="513.60" x2="484.50" y2="513.60" stroke="#000" stroke-width="1.3" />
<line x1="306.60" y1="513.60" x2="306.60" y2="516.40" stroke="#000" stroke-width="1.2" />
<text x="307.40000000000003" y="530.8" font-size="12" text-anchor="middle" font-family="Liberation Sans, sans-serif" font-weight="bold" >0</text>
<line x1="342.06" y1="513.60" x2="342.06" y2="516.40" stroke="#000" stroke-width="1.2" />
<text x="342.36" y="530.8" font-size="12" text-anchor="middle" font-family="Liberation Sans, sans-serif" font-weight="bold" textLength="15.5" lengthAdjust="spacingAndGlyphs" >0.2</text>
<line x1="377.52" y1="513.60" x2="377.52" y2="516.40" stroke="#000" stroke-width="1.2" />
<text x="377.82000000000005" y="530.8" font-size="12" text-anchor="middle" font-family="Liberation Sans, sans-serif" font-weight="bold" textLength="15.5" lengthAdjust="spacingAndGlyphs" >0.4</text>
<line x1="412.98" y1="513.60" x2="412.98" y2="516.40" stroke="#000" stroke-width="1.2" />
<text x="413.28000000000003" y="530.8" font-size="12" text-anchor="middle" font-family="Liberation Sans, sans-serif" font-weight="bold" textLength="15.5" lengthAdjust="spacingAndGlyphs" >0.6</text>
<line x1="448.44" y1="513.60" x2="448.44" y2="516.40" stroke="#000" stroke-width="1.2" />
<text x="448.74000000000007" y="530.8" font-size="12" text-anchor="middle" font-family="Liberation Sans, sans-serif" font-weight="bold" textLength="15.5" lengthAdjust="spacingAndGlyphs" >0.8</text>
<line x1="483.90" y1="513.60" x2="483.90" y2="516.40" stroke="#000" stroke-width="1.2" />
<text x="484.20000000000005" y="530.8" font-size="12" text-anchor="middle" font-family="Liberation Sans, sans-serif" font-weight="bold" >1</text>
<line x1="304.10" y1="345.20" x2="306.60" y2="345.20" stroke="#000" stroke-width="1.1" />
<rect x="306.60" y="347.60" width="20.74" height="4.40" fill="#000" />
<rect x="306.60" y="352.20" width="121.84" height="3.10" fill="#c4c4c4" stroke="#000" stroke-width="1" />
<rect x="306.60" y="355.80" width="48.23" height="4.10" fill="#000" />
<path d="M308.0,356.70 L310.2,356.70 L311.4,359.00 L309.2,359.00 Z" fill="#fff"/>
<path d="M315.5,356.70 L323.0,356.70 L324.2,359.00 L316.7,359.00 Z" fill="#fff"/>
<path d="M330.3,356.70 L337.8,356.70 L339.0,359.00 L331.5,359.00 Z" fill="#fff"/>
<path d="M343.7,356.70 L351.3,356.70 L352.5,359.00 L344.9,359.00 Z" fill="#fff"/>
<rect x="306.60" y="360.40" width="19.00" height="3.10" fill="#fff" stroke="#000" stroke-width="1" />
<text x="294.8" y="360.4" font-size="12.2" text-anchor="middle" font-family="Liberation Sans, sans-serif" font-weight="bold" textLength="13.2" lengthAdjust="spacingAndGlyphs" >55</text>
<line x1="304.10" y1="366.25" x2="306.60" y2="366.25" stroke="#000" stroke-width="1.1" />
<rect x="306.60" y="368.65" width="79.25" height="4.40" fill="#000" />
<rect x="306.60" y="373.25" width="89.39" height="3.10" fill="#c4c4c4" stroke="#000" stroke-width="1" />
<rect x="306.60" y="376.85" width="8.87" height="4.10" fill="#000" />
<path d="M310.6,377.75 L312.8,377.75 L314.0,380.05 L311.8,380.05 Z" fill="#fff"/>
<rect x="306.60" y="381.45" width="21.66" height="3.10" fill="#fff" stroke="#000" stroke-width="1" />
<text x="294.8" y="381.45" font-size="12.2" text-anchor="middle" font-family="Liberation Sans, sans-serif" font-weight="bold" textLength="13.2" lengthAdjust="spacingAndGlyphs" >62</text>
<line x1="304.10" y1="387.30" x2="306.60" y2="387.30" stroke="#000" stroke-width="1.1" />
<rect x="306.60" y="389.70" width="153.36" height="4.40" fill="#000" />
<rect x="306.60" y="394.30" width="68.12" height="3.10" fill="#c4c4c4" stroke="#000" stroke-width="1" />
<rect x="306.60" y="397.90" width="7.09" height="4.10" fill="#000" />
<path d="M308.8,398.80 L310.8,398.80 L312.0,401.10 L310.0,401.10 Z" fill="#fff"/>
<rect x="306.60" y="402.50" width="19.00" height="3.10" fill="#fff" stroke="#000" stroke-width="1" />
<text x="294.8" y="402.5" font-size="12.2" text-anchor="middle" font-family="Liberation Sans, sans-serif" font-weight="bold" textLength="13.2" lengthAdjust="spacingAndGlyphs" >78</text>
<line x1="304.10" y1="408.35" x2="306.60" y2="408.35" stroke="#000" stroke-width="1.1" />
<rect x="306.60" y="410.75" width="49.64" height="4.40" fill="#000" />
<rect x="306.60" y="415.35" width="131.41" height="3.10" fill="#c4c4c4" stroke="#000" stroke-width="1" />
<rect x="306.60" y="418.95" width="19.50" height="4.10" fill="#000" />
<path d="M310.9,419.85 L318.7,419.85 L319.9,422.15 L312.1,422.15 Z" fill="#fff"/>
<rect x="306.60" y="423.55" width="13.68" height="3.10" fill="#fff" stroke="#000" stroke-width="1" />
<text x="294.8" y="423.55" font-size="12.2" text-anchor="middle" font-family="Liberation Sans, sans-serif" font-weight="bold" textLength="13.2" lengthAdjust="spacingAndGlyphs" >79</text>
<line x1="304.10" y1="429.40" x2="306.60" y2="429.40" stroke="#000" stroke-width="1.1" />
<rect x="306.60" y="431.80" width="118.26" height="4.40" fill="#000" />
<rect x="306.60" y="436.40" width="136.55" height="3.10" fill="#c4c4c4" stroke="#000" stroke-width="1" />
<rect x="306.60" y="440.00" width="34.57" height="4.10" fill="#000" />
<path d="M307.8,440.90 L311.2,440.90 L312.4,443.20 L309.0,443.20 Z" fill="#fff"/>
<path d="M318.7,440.90 L324.5,440.90 L325.7,443.20 L319.9,443.20 Z" fill="#fff"/>
<path d="M331.9,440.90 L337.7,440.90 L338.9,443.20 L333.1,443.20 Z" fill="#fff"/>
<rect x="306.60" y="444.60" width="15.99" height="3.10" fill="#fff" stroke="#000" stroke-width="1" />
<text x="294.8" y="444.59999999999997" font-size="12.2" text-anchor="middle" font-family="Liberation Sans, sans-serif" font-weight="bold" textLength="13.2" lengthAdjust="spacingAndGlyphs" >80</text>
<line x1="304.10" y1="450.45" x2="306.60" y2="450.45" stroke="#000" stroke-width="1.1" />
<rect x="306.60" y="452.85" width="174.29" height="4.40" fill="#000" />
<rect x="306.60" y="457.45" width="97.19" height="3.10" fill="#c4c4c4" stroke="#000" stroke-width="1" />
<rect x="306.60" y="461.05" width="47.16" height="4.10" fill="#000" />
<path d="M311.7,461.95 L319.0,461.95 L320.2,464.25 L312.9,464.25 Z" fill="#fff"/>
<path d="M325.7,461.95 L332.2,461.95 L333.4,464.25 L326.9,464.25 Z" fill="#fff"/>
<path d="M338.9,461.95 L347.0,461.95 L348.2,464.25 L340.1,464.25 Z" fill="#fff"/>
<rect x="306.60" y="465.65" width="19.36" height="3.10" fill="#fff" stroke="#000" stroke-width="1" />
<text x="294.8" y="465.65000000000003" font-size="12.2" text-anchor="middle" font-family="Liberation Sans, sans-serif" font-weight="bold" textLength="13.2" lengthAdjust="spacingAndGlyphs" >87</text>
<line x1="304.10" y1="471.50" x2="306.60" y2="471.50" stroke="#000" stroke-width="1.1" />
<rect x="306.60" y="473.90" width="162.41" height="4.40" fill="#000" />
<rect x="306.60" y="478.50" width="129.64" height="3.10" fill="#c4c4c4" stroke="#000" stroke-width="1" />
<rect x="306.60" y="482.10" width="7.09" height="4.10" fill="#000" />
<path d="M307.6,483.00 L311.3,483.00 L312.5,485.30 L308.8,485.30 Z" fill="#fff"/>
<rect x="306.60" y="486.70" width="14.22" height="3.10" fill="#fff" stroke="#000" stroke-width="1" />
<text x="294.8" y="486.7" font-size="12.2" text-anchor="middle" font-family="Liberation Sans, sans-serif" font-weight="bold" textLength="13.2" lengthAdjust="spacingAndGlyphs" >92</text>
<line x1="304.10" y1="492.55" x2="306.60" y2="492.55" stroke="#000" stroke-width="1.1" />
<rect x="306.60" y="494.95" width="107.27" height="4.40" fill="#000" />
<rect x="306.60" y="499.55" width="154.28" height="3.10" fill="#c4c4c4" stroke="#000" stroke-width="1" />
<rect x="306.60" y="503.15" width="28.37" height="4.10" fill="#000" />
<path d="M311.7,504.05 L319.0,504.05 L320.2,506.35 L312.9,506.35 Z" fill="#fff"/>
<path d="M325.7,504.05 L331.5,504.05 L332.7,506.35 L326.9,506.35 Z" fill="#fff"/>
<rect x="306.60" y="507.75" width="15.46" height="3.10" fill="#fff" stroke="#000" stroke-width="1" />
<text x="295.6" y="507.75" font-size="12.2" text-anchor="middle" font-family="Liberation Sans, sans-serif" font-weight="bold" textLength="19" lengthAdjust="spacingAndGlyphs" >100</text>
<line x1="304.10" y1="513.60" x2="306.60" y2="513.60" stroke="#000" stroke-width="1.1" />
<text x="383.2" y="544" font-size="13.5" text-anchor="start" font-family="Liberation Sans, sans-serif" font-weight="bold" textLength="39.8" lengthAdjust="spacingAndGlyphs" >ng/mL</text>
<rect x="475.60" y="341.90" width="8.70" height="9.00" fill="#000" />
<rect x="476.30" y="357.20" width="7.30" height="7.40" fill="#b0b0b0" stroke="#000" stroke-width="1.4" />
<rect x="476.30" y="371.60" width="7.30" height="7.40" fill="#fff" stroke="#000" stroke-width="1.4" />
<path d="M477.2,371.59999999999997 L483.6,371.59999999999997 L483.6,378.5 Z" fill="#000"/>
<rect x="476.30" y="385.90" width="7.30" height="7.40" fill="#fff" stroke="#000" stroke-width="1.4" />
<text x="486.9" y="351.1" font-size="13.3" font-family="Liberation Sans, sans-serif" font-weight="bold">IFN-<tspan class="g" font-weight="normal" font-family="Liberation Serif, serif">γ</tspan></text>
<text x="486.9" y="365.6" font-size="13.3" text-anchor="start" font-family="Liberation Sans, sans-serif" font-weight="bold" textLength="31.6" lengthAdjust="spacingAndGlyphs" >IL-13</text>
<text x="486.9" y="380.2" font-size="13.3" text-anchor="start" font-family="Liberation Sans, sans-serif" font-weight="bold" textLength="24.2" lengthAdjust="spacingAndGlyphs" >IL-5</text>
<text x="486.9" y="394.3" font-size="13.3" text-anchor="start" font-family="Liberation Sans, sans-serif" font-weight="bold" textLength="24.2" lengthAdjust="spacingAndGlyphs" >IL-2</text>
</svg>
</body></html>
